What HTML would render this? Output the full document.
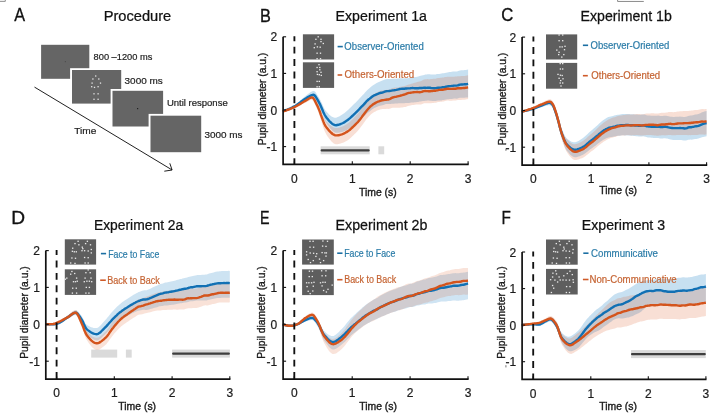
<!DOCTYPE html>
<html lang="en">
<head>
<meta charset="utf-8">
<title>Pupil diameter figure</title>
<style>
html,body{margin:0;padding:0;background:#fff;}
body{width:715px;height:420px;overflow:hidden;font-family:"Liberation Sans",sans-serif;}
svg{display:block;will-change:transform;filter:blur(0.45px);}
svg text{font-family:"Liberation Sans",sans-serif;}
</style>
</head>
<body>
<svg width="715" height="420" viewBox="0 0 715 420">
<rect x="0" y="0" width="715" height="420" fill="#ffffff"/>
<path d="M617.6,-1 V1.45 H643.8" fill="none" stroke="#7d7d7d" stroke-width="0.9"/>
<path d="M-1,1.35 H5.3 V-1" fill="none" stroke="#808080" stroke-width="0.9"/>
<rect x="505.3" y="148.6" width="1.2" height="2.2" fill="#8a8a8a"/>
<rect x="505.3" y="365.2" width="1.2" height="2.2" fill="#8a8a8a"/>
<text transform="translate(14.20,20.70) scale(0.8548,1)" font-size="19.0" fill="#111" stroke="#111" stroke-width="0.3">A</text>
<text transform="translate(103.63,20.50) scale(0.9917,1)" font-size="14.8" fill="#111" stroke="#111" stroke-width="0.25">Procedure</text>
<line x1="34.5" y1="87.1" x2="172.0" y2="169.9" stroke="#151515" stroke-width="0.95"/>
<polyline points="164.3,171.2 172.1,170 169.8,163.3" fill="none" stroke="#151515" stroke-width="0.95"/>
<rect x="39.2" y="43.0" width="51.2" height="36.9" fill="#fff"/>
<rect x="41.1" y="44.8" width="48.2" height="34.0" fill="#656565"/>
<rect x="70.1" y="68.2" width="52.2" height="36.5" fill="#fff"/>
<rect x="72.0" y="70.0" width="49.2" height="33.6" fill="#656565"/>
<rect x="110.6" y="89.0" width="53.6" height="38.6" fill="#fff"/>
<rect x="112.5" y="90.8" width="50.6" height="35.7" fill="#656565"/>
<rect x="148.6" y="113.9" width="53.7" height="39.4" fill="#fff"/>
<rect x="150.5" y="115.7" width="50.7" height="36.5" fill="#656565"/>
<rect x="64.8" y="61.1" width="1.1" height="1.1" fill="#4c4c4c"/>
<rect x="137.0" y="108.0" width="1.2" height="1.2" fill="#222"/>
<rect x="95.05" y="75.35" width="1.3" height="1.3" fill="#e6e6e6"/>
<rect x="92.25" y="78.35" width="1.3" height="1.3" fill="#e6e6e6"/>
<rect x="98.15" y="78.35" width="1.3" height="1.3" fill="#e6e6e6"/>
<rect x="91.45" y="82.45" width="1.3" height="1.3" fill="#e6e6e6"/>
<rect x="99.85" y="82.45" width="1.3" height="1.3" fill="#e6e6e6"/>
<rect x="91.05" y="86.05" width="1.3" height="1.3" fill="#e6e6e6"/>
<rect x="93.85" y="86.75" width="1.3" height="1.3" fill="#e6e6e6"/>
<rect x="97.45" y="86.05" width="1.3" height="1.3" fill="#e6e6e6"/>
<rect x="93.35" y="93.15" width="1.3" height="1.3" fill="#e6e6e6"/>
<rect x="97.45" y="93.15" width="1.3" height="1.3" fill="#e6e6e6"/>
<rect x="93.35" y="98.65" width="1.3" height="1.3" fill="#e6e6e6"/>
<rect x="97.45" y="98.65" width="1.3" height="1.3" fill="#e6e6e6"/>
<text transform="translate(93.58,59.90) scale(1.0668,1)" font-size="8.7" fill="#1c1c1c" stroke="#1c1c1c" stroke-width="0.18">800 &#8211;1200 ms</text>
<text transform="translate(124.60,83.90) scale(1.1433,1)" font-size="8.7" fill="#1c1c1c" stroke="#1c1c1c" stroke-width="0.18">3000 ms</text>
<text transform="translate(166.88,106.30) scale(1.0963,1)" font-size="8.7" fill="#1c1c1c" stroke="#1c1c1c" stroke-width="0.18">Until response</text>
<text transform="translate(204.40,138.00) scale(1.1403,1)" font-size="8.7" fill="#1c1c1c" stroke="#1c1c1c" stroke-width="0.18">3000 ms</text>
<text transform="translate(74.30,133.60) scale(1.1395,1)" font-size="8.9" fill="#1c1c1c" stroke="#1c1c1c" stroke-width="0.18">Time</text>
<rect x="320.6" y="146.3" width="49.1" height="8.0" fill="#dadada"/>
<rect x="320.6" y="149.3" width="49.1" height="2.1" rx="1" fill="#3e3e3e"/>
<rect x="378.4" y="146.3" width="5.8" height="8.0" fill="#dadada"/>
<polygon points="282.8,110.4 284.0,110.0 285.1,109.6 286.3,109.2 287.5,108.7 288.6,108.2 289.8,107.7 290.9,107.1 292.1,106.5 293.2,105.9 294.4,105.2 295.6,104.5 296.7,103.7 297.9,102.7 299.0,101.7 300.2,100.7 301.3,99.6 302.5,98.5 303.7,97.5 304.8,96.5 306.0,95.6 307.1,94.7 308.3,93.8 309.5,92.9 310.6,92.1 311.8,91.5 312.9,91.0 314.1,90.9 315.2,91.8 316.4,93.4 317.6,95.4 318.7,97.2 319.9,99.2 321.0,101.5 322.2,104.1 323.3,106.6 324.5,108.9 325.7,110.7 326.8,112.0 328.0,113.2 329.1,114.4 330.3,115.4 331.5,116.4 332.6,117.1 333.8,117.6 334.9,117.8 336.1,117.7 337.2,117.3 338.4,116.8 339.6,116.2 340.7,115.5 341.9,114.8 343.0,114.1 344.2,113.2 345.4,112.2 346.5,111.2 347.7,110.2 348.8,109.2 350.0,108.1 351.1,106.9 352.3,105.8 353.5,104.6 354.6,103.5 355.8,102.4 356.9,101.2 358.1,100.1 359.2,98.8 360.4,97.5 361.6,96.2 362.7,95.1 363.9,93.9 365.0,92.6 366.2,91.2 367.4,90.0 368.5,89.0 369.7,88.0 370.8,87.1 372.0,86.1 373.1,85.3 374.3,84.5 375.5,83.8 376.6,83.1 377.8,82.5 378.9,81.9 380.1,81.4 381.2,81.0 382.4,80.6 383.6,80.1 384.7,79.6 385.9,79.2 387.0,79.1 388.2,79.0 389.4,79.1 390.5,79.0 391.7,78.9 392.8,78.8 394.0,78.8 395.1,78.7 396.3,78.7 397.5,78.5 398.6,78.4 399.8,78.3 400.9,78.3 402.1,78.3 403.3,78.4 404.4,78.3 405.6,78.2 406.7,78.2 407.9,78.2 409.0,78.1 410.2,77.9 411.4,77.6 412.5,77.3 413.7,77.2 414.8,77.1 416.0,77.0 417.1,76.7 418.3,76.4 419.5,76.0 420.6,75.7 421.8,75.4 422.9,75.2 424.1,74.9 425.3,74.6 426.4,74.6 427.6,74.3 428.7,74.3 429.9,74.3 431.0,74.4 432.2,74.4 433.4,74.5 434.5,74.5 435.7,74.4 436.8,74.1 438.0,73.9 439.1,73.9 440.3,73.7 441.5,73.6 442.6,73.3 443.8,73.2 444.9,72.9 446.1,72.7 447.3,72.4 448.4,72.2 449.6,72.0 450.7,71.9 451.9,71.8 453.0,71.6 454.2,71.4 455.4,71.4 456.5,71.4 457.7,71.2 458.8,70.7 460.0,70.4 461.2,70.2 462.3,70.2 463.5,70.2 464.6,70.0 465.8,69.9 466.9,69.8 468.1,69.6 468.1,97.4 466.9,97.5 465.8,97.6 464.6,97.7 463.5,97.7 462.3,97.7 461.2,97.7 460.0,97.8 458.8,98.1 457.7,98.5 456.5,98.7 455.4,98.6 454.2,98.6 453.0,98.7 451.9,98.9 450.7,99.0 449.6,99.1 448.4,99.2 447.3,99.3 446.1,99.6 444.9,99.8 443.8,100.0 442.6,100.1 441.5,100.4 440.3,100.4 439.1,100.5 438.0,100.6 436.8,100.8 435.7,101.0 434.5,101.0 433.4,101.0 432.2,100.9 431.0,100.8 429.9,100.7 428.7,100.6 427.6,100.6 426.4,100.8 425.3,100.8 424.1,100.9 422.9,101.1 421.8,101.3 420.6,101.4 419.5,101.6 418.3,101.9 417.1,102.1 416.0,102.3 414.8,102.3 413.7,102.4 412.5,102.4 411.4,102.6 410.2,102.8 409.0,103.0 407.9,103.1 406.7,103.1 405.6,103.1 404.4,103.2 403.3,103.3 402.1,103.2 400.9,103.2 399.8,103.2 398.6,103.3 397.5,103.4 396.3,103.6 395.1,103.6 394.0,103.7 392.8,103.7 391.7,103.8 390.5,103.9 389.4,103.9 388.2,103.9 387.0,103.9 385.9,104.1 384.7,104.5 383.6,104.9 382.4,105.3 381.2,105.5 380.1,105.8 378.9,106.1 377.8,106.6 376.6,107.1 375.5,107.6 374.3,108.1 373.1,108.8 372.0,109.6 370.8,110.5 369.7,111.4 368.5,112.2 367.4,113.1 366.2,114.2 365.0,115.4 363.9,116.6 362.7,117.6 361.6,118.5 360.4,119.5 359.2,120.6 358.1,121.7 356.9,122.6 355.8,123.5 354.6,124.4 353.5,125.4 352.3,126.3 351.1,127.2 350.0,128.0 348.8,128.8 347.7,129.5 346.5,130.2 345.4,130.8 344.2,131.3 343.0,131.8 341.9,132.1 340.7,132.3 339.6,132.5 338.4,132.7 337.2,132.8 336.1,132.7 334.9,132.4 333.8,131.8 332.6,130.9 331.5,129.8 330.3,128.4 329.1,127.0 328.0,125.4 326.8,123.7 325.7,122.0 324.5,119.7 323.3,117.0 322.2,114.1 321.0,111.1 319.9,108.4 318.7,106.0 317.6,103.8 316.4,101.5 315.2,99.5 314.1,98.2 312.9,97.9 311.8,98.0 310.6,98.4 309.5,98.8 308.3,99.4 307.1,99.9 306.0,100.5 304.8,101.0 303.7,101.6 302.5,102.3 301.3,103.1 300.2,103.9 299.0,104.7 297.9,105.4 296.7,106.2 295.6,106.8 294.4,107.4 293.2,108.0 292.1,108.5 290.9,109.0 289.8,109.5 288.6,109.9 287.5,110.4 286.3,110.8 285.1,111.2 284.0,111.5 282.8,111.8" fill="rgba(0,114,189,0.220)"/>
<polygon points="282.8,110.7 284.0,110.4 285.1,110.0 286.3,109.6 287.5,109.1 288.6,108.6 289.8,108.2 290.9,107.6 292.1,107.1 293.2,106.5 294.4,106.0 295.6,105.4 296.7,104.7 297.9,104.0 299.0,103.2 300.2,102.5 301.3,101.7 302.5,100.9 303.7,100.1 304.8,99.3 306.0,98.5 307.1,97.7 308.3,96.8 309.5,96.0 310.6,95.2 311.8,94.8 312.9,95.0 314.1,96.3 315.2,98.3 316.4,100.6 317.6,102.7 318.7,105.0 319.9,107.6 321.0,110.6 322.2,113.5 323.3,116.4 324.5,118.8 325.7,120.7 326.8,121.9 328.0,123.1 329.1,124.2 330.3,125.2 331.5,126.1 332.6,126.9 333.8,127.5 334.9,127.9 336.1,128.0 337.2,127.9 338.4,127.7 339.6,127.4 340.7,127.1 341.9,126.7 343.0,126.3 344.2,125.7 345.4,125.0 346.5,124.3 347.7,123.6 348.8,122.7 350.0,121.7 351.1,120.6 352.3,119.5 353.5,118.3 354.6,117.0 355.8,115.8 356.9,114.5 358.1,113.2 359.2,111.7 360.4,110.1 361.6,108.3 362.7,106.6 363.9,104.8 365.0,103.2 366.2,101.6 367.4,100.1 368.5,98.7 369.7,97.4 370.8,96.2 372.0,95.3 373.1,94.4 374.3,93.7 375.5,93.0 376.6,92.4 377.8,91.9 378.9,91.4 380.1,90.9 381.2,90.6 382.4,90.4 383.6,90.3 384.7,90.0 385.9,89.9 387.0,89.7 388.2,89.7 389.4,89.4 390.5,88.9 391.7,88.3 392.8,87.9 394.0,87.8 395.1,87.6 396.3,87.6 397.5,87.4 398.6,87.2 399.8,87.0 400.9,86.8 402.1,86.5 403.3,86.2 404.4,86.0 405.6,85.7 406.7,85.3 407.9,84.8 409.0,84.4 410.2,84.2 411.4,83.8 412.5,83.4 413.7,83.0 414.8,82.7 416.0,82.4 417.1,82.1 418.3,81.8 419.5,81.6 420.6,81.3 421.8,80.8 422.9,80.1 424.1,79.5 425.3,79.3 426.4,79.2 427.6,79.1 428.7,79.2 429.9,79.2 431.0,79.1 432.2,78.9 433.4,78.8 434.5,78.7 435.7,78.7 436.8,78.3 438.0,78.1 439.1,77.9 440.3,77.8 441.5,77.7 442.6,77.6 443.8,77.4 444.9,77.1 446.1,76.9 447.3,76.7 448.4,76.7 449.6,76.8 450.7,76.8 451.9,76.8 453.0,76.8 454.2,76.7 455.4,76.6 456.5,76.4 457.7,76.3 458.8,76.2 460.0,76.2 461.2,76.1 462.3,76.0 463.5,76.0 464.6,75.9 465.8,75.7 466.9,75.5 468.1,75.3 468.1,99.1 466.9,99.3 465.8,99.5 464.6,99.7 463.5,99.7 462.3,99.8 461.2,99.9 460.0,100.0 458.8,100.0 457.7,100.1 456.5,100.2 455.4,100.5 454.2,100.5 453.0,100.6 451.9,100.7 450.7,100.7 449.6,100.7 448.4,100.6 447.3,100.6 446.1,100.8 444.9,101.1 443.8,101.4 442.6,101.6 441.5,101.7 440.3,101.8 439.1,101.9 438.0,102.1 436.8,102.4 435.7,102.7 434.5,102.8 433.4,102.9 432.2,103.0 431.0,103.2 429.9,103.3 428.7,103.3 427.6,103.2 426.4,103.2 425.3,103.2 424.1,103.3 422.9,103.7 421.8,104.2 420.6,104.5 419.5,104.6 418.3,104.5 417.1,104.6 416.0,104.6 414.8,104.8 413.7,104.9 412.5,105.1 411.4,105.3 410.2,105.5 409.0,105.7 407.9,106.0 406.7,106.5 405.6,106.9 404.4,107.1 403.3,107.3 402.1,107.5 400.9,107.6 399.8,107.7 398.6,107.8 397.5,107.8 396.3,107.8 395.1,107.8 394.0,107.7 392.8,107.8 391.7,108.0 390.5,108.4 389.4,108.8 388.2,108.9 387.0,108.8 385.9,108.9 384.7,109.0 383.6,109.1 382.4,109.1 381.2,109.3 380.1,109.5 378.9,109.9 377.8,110.3 376.6,110.8 375.5,111.4 374.3,112.0 373.1,112.8 372.0,113.6 370.8,114.5 369.7,115.7 368.5,116.9 367.4,118.2 366.2,119.6 365.0,121.2 363.9,122.8 362.7,124.4 361.6,126.0 360.4,127.6 359.2,129.1 358.1,130.5 356.9,131.7 355.8,132.9 354.6,134.0 353.5,135.2 352.3,136.3 351.1,137.4 350.0,138.5 348.8,139.4 347.7,140.2 346.5,140.9 345.4,141.6 344.2,142.2 343.0,142.7 341.9,143.1 340.7,143.5 339.6,143.8 338.4,144.0 337.2,144.2 336.1,144.2 334.9,144.0 333.8,143.4 332.6,142.6 331.5,141.5 330.3,140.1 329.1,138.6 328.0,136.9 326.8,135.2 325.7,133.3 324.5,130.7 323.3,127.5 322.2,123.9 321.0,120.2 319.9,116.6 318.7,113.2 317.6,110.3 316.4,107.5 315.2,104.7 314.1,102.2 312.9,100.5 311.8,99.9 310.6,100.1 309.5,100.5 308.3,101.2 307.1,101.8 306.0,102.4 304.8,102.9 303.7,103.5 302.5,104.1 301.3,104.7 300.2,105.3 299.0,105.9 297.9,106.5 296.7,107.1 295.6,107.7 294.4,108.2 293.2,108.6 292.1,109.1 290.9,109.5 289.8,110.0 288.6,110.4 287.5,110.8 286.3,111.2 285.1,111.5 284.0,111.9 282.8,112.2" fill="rgba(217,83,25,0.185)"/>
<polyline points="282.8,111.1 284.0,110.8 285.1,110.4 286.3,110.0 287.5,109.5 288.6,109.1 289.8,108.6 290.9,108.1 292.1,107.5 293.2,106.9 294.4,106.3 295.6,105.7 296.7,104.9 297.9,104.1 299.0,103.3 300.2,102.4 301.3,101.5 302.5,100.6 303.7,99.7 304.8,99.0 306.0,98.3 307.1,97.6 308.3,96.9 309.5,96.2 310.6,95.6 311.8,95.1 312.9,94.8 314.1,95.0 315.2,96.0 316.4,97.8 317.6,99.9 318.7,101.9 319.9,104.1 321.0,106.6 322.2,109.3 323.3,112.0 324.5,114.5 325.7,116.5 326.8,118.0 328.0,119.4 329.1,120.8 330.3,122.0 331.5,123.1 332.6,124.0 333.8,124.7 334.9,125.1 336.1,125.2 337.2,125.0 338.4,124.8 339.6,124.4 340.7,124.0 341.9,123.5 343.0,123.0 344.2,122.4 345.4,121.6 346.5,120.8 347.7,120.0 348.8,119.1 350.0,118.1 351.1,117.1 352.3,116.0 353.5,114.9 354.6,113.8 355.8,112.7 356.9,111.6 358.1,110.4 359.2,109.2 360.4,107.9 361.6,106.7 362.7,105.6 363.9,104.4 365.0,103.1 366.2,101.7 367.4,100.5 368.5,99.5 369.7,98.6 370.8,97.7 372.0,96.8 373.1,96.0 374.3,95.3 375.5,94.8 376.6,94.3 377.8,93.8 378.9,93.3 380.1,93.0 381.2,92.7 382.4,92.5 383.6,92.1 384.7,91.7 385.9,91.3 387.0,91.1 388.2,91.1 389.4,91.0 390.5,90.9 391.7,90.6 392.8,90.4 394.0,90.3 395.1,90.1 396.3,89.9 397.5,89.6 398.6,89.3 399.8,89.0 400.9,88.9 402.1,88.8 403.3,88.8 404.4,88.7 405.6,88.5 406.7,88.5 407.9,88.4 409.0,88.4 410.2,88.3 411.4,88.1 412.5,88.0 413.7,88.1 414.8,88.2 416.0,88.3 417.1,88.3 418.3,88.2 419.5,88.0 420.6,88.0 421.8,88.0 422.9,87.9 424.1,87.8 425.3,87.8 426.4,87.9 427.6,87.8 428.7,87.8 429.9,87.8 431.0,88.0 432.2,88.1 433.4,88.2 434.5,88.2 435.7,88.1 436.8,87.9 438.0,87.8 439.1,87.7 440.3,87.6 441.5,87.5 442.6,87.3 443.8,87.2 444.9,87.0 446.1,86.7 447.3,86.5 448.4,86.3 449.6,86.1 450.7,86.1 451.9,85.9 453.0,85.8 454.2,85.6 455.4,85.6 456.5,85.6 457.7,85.4 458.8,85.0 460.0,84.6 461.2,84.5 462.3,84.5 463.5,84.4 464.6,84.3 465.8,84.2 466.9,84.1 468.1,83.8" fill="none" stroke="#1170b4" stroke-width="2.4" stroke-linejoin="round" stroke-linecap="butt"/>
<polyline points="282.8,111.5 284.0,111.1 285.1,110.8 286.3,110.4 287.5,109.9 288.6,109.5 289.8,109.1 290.9,108.6 292.1,108.1 293.2,107.6 294.4,107.1 295.6,106.5 296.7,105.9 297.9,105.3 299.0,104.6 300.2,103.9 301.3,103.2 302.5,102.5 303.7,101.8 304.8,101.1 306.0,100.5 307.1,99.8 308.3,99.0 309.5,98.3 310.6,97.7 311.8,97.4 312.9,97.8 314.1,99.2 315.2,101.4 316.4,103.9 317.6,106.3 318.7,108.9 319.9,111.8 321.0,115.1 322.2,118.3 323.3,121.4 324.5,124.2 325.7,126.4 326.8,127.9 328.0,129.3 329.1,130.7 330.3,131.9 331.5,133.0 332.6,134.0 333.8,134.7 334.9,135.2 336.1,135.4 337.2,135.4 338.4,135.2 339.6,135.0 340.7,134.7 341.9,134.3 343.0,133.9 344.2,133.4 345.4,132.8 346.5,132.1 347.7,131.4 348.8,130.6 350.0,129.7 351.1,128.6 352.3,127.5 353.5,126.4 354.6,125.3 355.8,124.1 356.9,123.0 358.1,121.8 359.2,120.4 360.4,119.0 361.6,117.4 362.7,115.8 363.9,114.2 365.0,112.7 366.2,111.2 367.4,109.8 368.5,108.5 369.7,107.2 370.8,106.1 372.0,105.2 373.1,104.3 374.3,103.6 375.5,102.9 376.6,102.3 377.8,101.7 378.9,101.3 380.1,100.8 381.2,100.5 382.4,100.2 383.6,100.1 384.7,99.9 385.9,99.7 387.0,99.5 388.2,99.5 389.4,99.2 390.5,98.6 391.7,97.9 392.8,97.5 394.0,97.2 395.1,96.9 396.3,96.7 397.5,96.4 398.6,96.1 399.8,95.8 400.9,95.5 402.1,95.2 403.3,94.8 404.4,94.5 405.6,94.2 406.7,93.7 407.9,93.2 409.0,92.9 410.2,92.8 411.4,92.6 412.5,92.4 413.7,92.2 414.8,92.1 416.0,92.1 417.1,92.0 418.3,92.1 419.5,92.2 420.6,92.1 421.8,91.9 422.9,91.4 424.1,91.1 425.3,91.0 426.4,91.1 427.6,91.1 428.7,91.2 429.9,91.3 431.0,91.1 432.2,91.0 433.4,90.9 434.5,90.8 435.7,90.7 436.8,90.4 438.0,90.2 439.1,89.9 440.3,89.9 441.5,89.8 442.6,89.7 443.8,89.5 444.9,89.2 446.1,89.0 447.3,88.8 448.4,88.8 449.6,88.9 450.7,88.9 451.9,88.9 453.0,88.8 454.2,88.8 455.4,88.7 456.5,88.5 457.7,88.3 458.8,88.2 460.0,88.3 461.2,88.2 462.3,88.1 463.5,88.0 464.6,88.0 465.8,87.8 466.9,87.6 468.1,87.4" fill="none" stroke="#d4541c" stroke-width="2.4" stroke-linejoin="round" stroke-linecap="butt"/>
<line x1="294.4" y1="36.2" x2="294.4" y2="164.3" stroke="#111" stroke-width="1.85" stroke-dasharray="6.9,5.5" stroke-dashoffset="1.9"/>
<path d="M283.1,36.8 V164.3 H468.7" fill="none" stroke="#111" stroke-width="1.7"/>
<line x1="283.1" y1="36.8" x2="286.1" y2="36.8" stroke="#111" stroke-width="1.1"/>
<text x="277.2" y="41.3" font-size="12" fill="#1c1c1c" text-anchor="end" stroke="#1c1c1c" stroke-width="0.22">2</text>
<line x1="283.1" y1="73.4" x2="286.1" y2="73.4" stroke="#111" stroke-width="1.1"/>
<text x="277.2" y="77.9" font-size="12" fill="#1c1c1c" text-anchor="end" stroke="#1c1c1c" stroke-width="0.22">1</text>
<line x1="283.1" y1="110.0" x2="286.1" y2="110.0" stroke="#111" stroke-width="1.1"/>
<text x="277.2" y="114.5" font-size="12" fill="#1c1c1c" text-anchor="end" stroke="#1c1c1c" stroke-width="0.22">0</text>
<line x1="283.1" y1="146.6" x2="286.1" y2="146.6" stroke="#111" stroke-width="1.1"/>
<text x="277.2" y="151.1" font-size="12" fill="#1c1c1c" text-anchor="end" stroke="#1c1c1c" stroke-width="0.22">-1</text>
<line x1="294.4" y1="164.3" x2="294.4" y2="161.3" stroke="#111" stroke-width="1.1"/>
<text x="294.4" y="182.5" font-size="12" fill="#1c1c1c" text-anchor="middle" stroke="#1c1c1c" stroke-width="0.22">0</text>
<line x1="352.3" y1="164.3" x2="352.3" y2="161.3" stroke="#111" stroke-width="1.1"/>
<text x="352.3" y="182.5" font-size="12" fill="#1c1c1c" text-anchor="middle" stroke="#1c1c1c" stroke-width="0.22">1</text>
<line x1="410.2" y1="164.3" x2="410.2" y2="161.3" stroke="#111" stroke-width="1.1"/>
<text x="410.2" y="182.5" font-size="12" fill="#1c1c1c" text-anchor="middle" stroke="#1c1c1c" stroke-width="0.22">2</text>
<line x1="468.1" y1="164.3" x2="468.1" y2="161.3" stroke="#111" stroke-width="1.1"/>
<text x="468.1" y="182.5" font-size="12" fill="#1c1c1c" text-anchor="middle" stroke="#1c1c1c" stroke-width="0.22">3</text>
<text transform="translate(358.99,195.80) scale(0.9820,1)" font-size="10.6" fill="#1c1c1c" stroke="#1c1c1c" stroke-width="0.38">Time (s)</text>
<text transform="translate(265.6,99.0) rotate(-90)" font-size="10.6" fill="#1c1c1c" stroke="#1c1c1c" stroke-width="0.36" text-anchor="middle" textLength="92.5" lengthAdjust="spacingAndGlyphs">Pupil diameter (a.u.)</text>
<rect x="302.9" y="34.3" width="31.2" height="25.2" fill="#5e5e5e"/>
<rect x="317.52" y="36.15" width="1.36" height="1.3" fill="#ebebeb"/>
<rect x="315.22" y="38.65" width="1.36" height="1.3" fill="#ebebeb"/>
<rect x="320.32" y="38.65" width="1.36" height="1.3" fill="#ebebeb"/>
<rect x="320.32" y="40.95" width="1.36" height="1.3" fill="#ebebeb"/>
<rect x="322.62" y="42.85" width="1.36" height="1.3" fill="#ebebeb"/>
<rect x="314.42" y="43.25" width="1.36" height="1.3" fill="#ebebeb"/>
<rect x="313.62" y="47.05" width="1.36" height="1.3" fill="#ebebeb"/>
<rect x="316.72" y="46.25" width="1.36" height="1.3" fill="#ebebeb"/>
<rect x="319.52" y="46.55" width="1.36" height="1.3" fill="#ebebeb"/>
<rect x="316.42" y="52.55" width="1.36" height="1.3" fill="#ebebeb"/>
<rect x="319.82" y="52.55" width="1.36" height="1.3" fill="#ebebeb"/>
<rect x="316.42" y="58.05" width="1.36" height="1.3" fill="#ebebeb"/>
<rect x="319.82" y="58.05" width="1.36" height="1.3" fill="#ebebeb"/>
<rect x="302.9" y="62.3" width="31.2" height="25.6" fill="#5e5e5e"/>
<rect x="318.32" y="64.05" width="1.36" height="1.3" fill="#ebebeb"/>
<rect x="316.42" y="66.85" width="1.36" height="1.3" fill="#ebebeb"/>
<rect x="319.12" y="66.85" width="1.36" height="1.3" fill="#ebebeb"/>
<rect x="319.12" y="69.15" width="1.36" height="1.3" fill="#ebebeb"/>
<rect x="316.42" y="71.05" width="1.36" height="1.3" fill="#ebebeb"/>
<rect x="320.32" y="71.65" width="1.36" height="1.3" fill="#ebebeb"/>
<rect x="316.72" y="73.75" width="1.36" height="1.3" fill="#ebebeb"/>
<rect x="318.62" y="74.05" width="1.36" height="1.3" fill="#ebebeb"/>
<rect x="320.62" y="74.75" width="1.36" height="1.3" fill="#ebebeb"/>
<rect x="316.42" y="80.75" width="1.36" height="1.3" fill="#ebebeb"/>
<rect x="318.62" y="80.75" width="1.36" height="1.3" fill="#ebebeb"/>
<rect x="316.42" y="86.15" width="1.36" height="1.3" fill="#ebebeb"/>
<rect x="318.62" y="86.15" width="1.36" height="1.3" fill="#ebebeb"/>
<line x1="337.6" y1="46.6" x2="342.8" y2="46.6" stroke="#1b6fa3" stroke-width="1.6"/>
<text transform="translate(344.37,49.80) scale(0.9215,1)" font-size="10.4" fill="#2b7ca8" stroke="#2b7ca8" stroke-width="0.2">Observer-Oriented</text>
<line x1="337.6" y1="75.0" x2="342.2" y2="75.0" stroke="#cf5a28" stroke-width="1.6"/>
<text transform="translate(344.56,78.10) scale(0.9357,1)" font-size="10.4" fill="#c56332" stroke="#c56332" stroke-width="0.2">Others-Oriented</text>
<text transform="translate(260.10,21.60) scale(0.8559,1)" font-size="19.0" fill="#111" stroke="#111" stroke-width="0.35">B</text>
<text transform="translate(335.57,21.40) scale(0.9651,1)" font-size="14.7" fill="#111" stroke="#111" stroke-width="0.25">Experiment 1a</text>
<polygon points="521.8,110.9 523.0,110.6 524.1,110.4 525.3,110.1 526.4,109.8 527.6,109.4 528.7,109.1 529.9,108.7 531.0,108.4 532.2,108.0 533.4,107.6 534.5,107.1 535.7,106.6 536.8,106.1 538.0,105.6 539.1,105.0 540.3,104.5 541.4,103.9 542.6,103.4 543.7,102.8 544.9,102.2 546.1,101.6 547.2,101.1 548.4,100.6 549.5,100.4 550.7,100.5 551.8,101.3 553.0,102.5 554.1,104.9 555.3,108.1 556.5,111.4 557.6,114.9 558.8,119.0 559.9,123.2 561.1,127.0 562.2,130.0 563.4,132.8 564.5,135.3 565.7,137.3 566.8,138.5 568.0,139.5 569.2,140.3 570.3,141.1 571.5,141.7 572.6,142.1 573.8,142.3 574.9,142.2 576.1,141.9 577.2,141.5 578.4,140.9 579.6,140.2 580.7,139.5 581.9,138.7 583.0,138.0 584.2,137.1 585.3,136.1 586.5,135.0 587.6,133.9 588.8,132.8 589.9,131.7 591.1,130.7 592.3,129.8 593.4,128.8 594.6,127.7 595.7,126.7 596.9,125.7 598.0,124.7 599.2,123.6 600.3,122.5 601.5,121.5 602.7,120.5 603.8,119.7 605.0,118.9 606.1,118.2 607.3,117.6 608.4,117.1 609.6,116.8 610.7,116.4 611.9,116.2 613.0,115.9 614.2,115.6 615.4,115.3 616.5,114.9 617.7,114.7 618.8,114.7 620.0,114.5 621.1,114.3 622.3,114.1 623.4,114.1 624.6,114.1 625.8,114.0 626.9,113.9 628.1,114.0 629.2,114.1 630.4,114.2 631.5,114.2 632.7,114.2 633.8,114.3 635.0,114.4 636.1,114.6 637.3,114.6 638.5,114.7 639.6,114.8 640.8,114.7 641.9,114.6 643.1,114.4 644.2,114.5 645.4,114.8 646.5,115.2 647.7,115.4 648.9,115.5 650.0,115.6 651.2,115.7 652.3,115.7 653.5,115.7 654.6,115.8 655.8,115.7 656.9,115.7 658.1,115.6 659.2,115.8 660.4,115.9 661.6,116.0 662.7,115.9 663.9,115.8 665.0,115.7 666.2,115.8 667.3,115.9 668.5,116.2 669.6,116.4 670.8,116.7 672.0,116.8 673.1,116.9 674.3,116.9 675.4,116.8 676.6,116.8 677.7,116.7 678.9,116.8 680.0,116.6 681.2,116.7 682.3,116.7 683.5,116.9 684.7,117.0 685.8,116.8 687.0,116.5 688.1,116.0 689.3,115.7 690.4,115.5 691.6,115.5 692.7,115.2 693.9,114.9 695.0,114.6 696.2,114.4 697.4,114.2 698.5,114.0 699.7,113.4 700.8,112.9 702.0,112.3 703.1,111.9 704.3,111.6 705.4,111.3 706.6,111.0 706.6,136.3 705.4,136.6 704.3,136.7 703.1,137.0 702.0,137.2 700.8,137.7 699.7,138.1 698.5,138.6 697.4,138.8 696.2,138.9 695.0,139.0 693.9,139.2 692.7,139.5 691.6,139.7 690.4,139.6 689.3,139.7 688.1,139.8 687.0,140.3 685.8,140.6 684.7,140.6 683.5,140.4 682.3,140.2 681.2,140.1 680.0,140.0 678.9,140.1 677.7,140.0 676.6,140.0 675.4,139.9 674.3,139.9 673.1,139.9 672.0,139.7 670.8,139.5 669.6,139.2 668.5,139.0 667.3,138.6 666.2,138.4 665.0,138.3 663.9,138.3 662.7,138.4 661.6,138.4 660.4,138.4 659.2,138.2 658.1,138.0 656.9,138.0 655.8,138.0 654.6,138.0 653.5,137.9 652.3,137.8 651.2,137.8 650.0,137.6 648.9,137.5 647.7,137.4 646.5,137.1 645.4,136.7 644.2,136.4 643.1,136.2 641.9,136.4 640.8,136.5 639.6,136.5 638.5,136.4 637.3,136.3 636.1,136.3 635.0,136.1 633.8,135.9 632.7,135.8 631.5,135.7 630.4,135.7 629.2,135.5 628.1,135.5 626.9,135.3 625.8,135.4 624.6,135.4 623.4,135.3 622.3,135.3 621.1,135.5 620.0,135.7 618.8,135.8 617.7,135.8 616.5,135.9 615.4,136.2 614.2,136.5 613.0,136.8 611.9,137.0 610.7,137.1 609.6,137.3 608.4,137.5 607.3,137.9 606.1,138.3 605.0,138.9 603.8,139.5 602.7,140.2 601.5,141.0 600.3,141.8 599.2,142.7 598.0,143.6 596.9,144.5 595.7,145.4 594.6,146.2 593.4,147.1 592.3,147.9 591.1,148.7 589.9,149.5 588.8,150.4 587.6,151.4 586.5,152.3 585.3,153.2 584.2,154.0 583.0,154.7 581.9,155.2 580.7,155.7 579.6,156.2 578.4,156.6 577.2,157.0 576.1,157.2 574.9,157.2 573.8,157.0 572.6,156.5 571.5,155.7 570.3,154.7 569.2,153.5 568.0,152.1 566.8,150.7 565.7,148.9 564.5,146.3 563.4,143.3 562.2,139.9 561.1,136.3 559.9,132.0 558.8,127.2 557.6,122.6 556.5,118.6 555.3,114.7 554.1,111.1 553.0,108.3 551.8,106.7 550.7,105.6 549.5,105.2 548.4,105.3 547.2,105.4 546.1,105.7 544.9,106.1 543.7,106.5 542.6,106.9 541.4,107.2 540.3,107.5 539.1,107.9 538.0,108.3 536.8,108.7 535.7,109.1 534.5,109.4 533.4,109.8 532.2,110.1 531.0,110.4 529.9,110.6 528.7,110.9 527.6,111.2 526.4,111.4 525.3,111.7 524.1,111.9 523.0,112.1 521.8,112.3" fill="rgba(0,114,189,0.220)"/>
<polygon points="521.8,110.9 523.0,110.5 524.1,110.2 525.3,109.8 526.4,109.5 527.6,109.1 528.7,108.6 529.9,108.2 531.0,107.8 532.2,107.3 533.4,106.8 534.5,106.3 535.7,105.8 536.8,105.2 538.0,104.6 539.1,104.0 540.3,103.4 541.4,102.9 542.6,102.3 543.7,101.7 544.9,101.1 546.1,100.5 547.2,100.0 548.4,99.6 549.5,99.3 550.7,99.3 551.8,100.2 553.0,101.5 554.1,103.9 555.3,107.2 556.5,110.6 557.6,114.2 558.8,118.5 559.9,122.8 561.1,126.8 562.2,130.0 563.4,132.9 564.5,135.5 565.7,137.7 566.8,139.1 568.0,140.3 569.2,141.4 570.3,142.4 571.5,143.2 572.6,143.9 573.8,144.2 574.9,144.3 576.1,144.1 577.2,143.8 578.4,143.3 579.6,142.8 580.7,142.2 581.9,141.5 583.0,140.9 584.2,140.1 585.3,139.2 586.5,138.2 587.6,137.1 588.8,136.0 589.9,135.0 591.1,134.0 592.3,133.1 593.4,132.1 594.6,131.0 595.7,129.9 596.9,128.7 598.0,127.7 599.2,126.6 600.3,125.5 601.5,124.5 602.7,123.6 603.8,122.6 605.0,121.8 606.1,121.0 607.3,120.3 608.4,119.6 609.6,119.1 610.7,118.5 611.9,118.1 613.0,117.6 614.2,117.3 615.4,117.0 616.5,116.6 617.7,116.1 618.8,115.7 620.0,115.5 621.1,115.4 622.3,115.3 623.4,115.1 624.6,114.9 625.8,114.7 626.9,114.6 628.1,114.5 629.2,114.6 630.4,114.6 631.5,114.6 632.7,114.4 633.8,114.3 635.0,114.2 636.1,114.1 637.3,114.0 638.5,114.0 639.6,114.1 640.8,114.2 641.9,114.3 643.1,114.2 644.2,113.9 645.4,113.7 646.5,113.6 647.7,113.6 648.9,113.5 650.0,113.4 651.2,113.3 652.3,113.3 653.5,113.3 654.6,113.4 655.8,113.5 656.9,113.6 658.1,113.6 659.2,113.3 660.4,113.1 661.6,112.8 662.7,112.8 663.9,112.7 665.0,112.8 666.2,112.6 667.3,112.5 668.5,112.1 669.6,112.0 670.8,111.9 672.0,112.1 673.1,112.2 674.3,112.1 675.4,111.9 676.6,111.7 677.7,111.5 678.9,111.4 680.0,111.3 681.2,111.3 682.3,111.3 683.5,111.1 684.7,110.9 685.8,110.9 687.0,110.9 688.1,110.9 689.3,110.8 690.4,110.7 691.6,110.6 692.7,110.4 693.9,110.2 695.0,110.1 696.2,110.0 697.4,110.0 698.5,109.8 699.7,109.5 700.8,109.2 702.0,109.1 703.1,109.1 704.3,109.2 705.4,109.0 706.6,108.9 706.6,134.6 705.4,134.6 704.3,134.7 703.1,134.6 702.0,134.4 700.8,134.4 699.7,134.6 698.5,134.8 697.4,134.9 696.2,134.9 695.0,134.9 693.9,134.9 692.7,135.0 691.6,135.1 690.4,135.2 689.3,135.1 688.1,135.2 687.0,135.1 685.8,134.9 684.7,134.9 683.5,135.0 682.3,135.1 681.2,135.1 680.0,135.0 678.9,134.9 677.7,135.0 676.6,135.1 675.4,135.2 674.3,135.3 673.1,135.3 672.0,135.2 670.8,134.9 669.6,134.9 668.5,135.0 667.3,135.2 666.2,135.2 665.0,135.4 663.9,135.3 662.7,135.3 661.6,135.2 660.4,135.4 659.2,135.5 658.1,135.8 656.9,135.7 655.8,135.5 654.6,135.4 653.5,135.2 652.3,135.2 651.2,135.1 650.0,135.1 648.9,135.1 647.7,135.1 646.5,135.1 645.4,135.2 644.2,135.3 643.1,135.6 641.9,135.6 640.8,135.5 639.6,135.3 638.5,135.2 637.3,135.1 636.1,135.1 635.0,135.2 633.8,135.2 632.7,135.3 631.5,135.4 630.4,135.3 629.2,135.3 628.1,135.1 626.9,135.2 625.8,135.2 624.6,135.4 623.4,135.5 622.3,135.6 621.1,135.6 620.0,135.7 618.8,135.8 617.7,136.1 616.5,136.5 615.4,136.9 614.2,137.1 613.0,137.4 611.9,137.7 610.7,138.1 609.6,138.5 608.4,139.0 607.3,139.6 606.1,140.2 605.0,140.9 603.8,141.6 602.7,142.4 601.5,143.2 600.3,144.2 599.2,145.1 598.0,146.1 596.9,147.0 595.7,148.0 594.6,149.0 593.4,150.0 592.3,150.8 591.1,151.6 589.9,152.5 588.8,153.4 587.6,154.4 586.5,155.3 585.3,156.2 584.2,157.0 583.0,157.7 581.9,158.2 580.7,158.6 579.6,159.1 578.4,159.5 577.2,159.8 576.1,159.9 574.9,159.9 573.8,159.7 572.6,159.0 571.5,158.1 570.3,156.8 569.2,155.4 568.0,153.8 566.8,152.0 565.7,150.0 564.5,147.2 563.4,143.9 562.2,140.4 561.1,136.6 559.9,132.0 558.8,127.0 557.6,122.1 556.5,117.9 555.3,113.9 554.1,110.2 553.0,107.3 551.8,105.6 550.7,104.5 549.5,104.1 548.4,104.2 547.2,104.3 546.1,104.6 544.9,105.0 543.7,105.4 542.6,105.8 541.4,106.1 540.3,106.5 539.1,106.9 538.0,107.3 536.8,107.8 535.7,108.2 534.5,108.6 533.4,109.0 532.2,109.4 531.0,109.8 529.9,110.1 528.7,110.5 527.6,110.8 526.4,111.1 525.3,111.4 524.1,111.7 523.0,112.0 521.8,112.3" fill="rgba(217,83,25,0.185)"/>
<polyline points="521.8,111.6 523.0,111.4 524.1,111.1 525.3,110.9 526.4,110.6 527.6,110.3 528.7,110.0 529.9,109.7 531.0,109.4 532.2,109.0 533.4,108.7 534.5,108.3 535.7,107.9 536.8,107.4 538.0,106.9 539.1,106.5 540.3,106.0 541.4,105.6 542.6,105.1 543.7,104.7 544.9,104.2 546.1,103.7 547.2,103.3 548.4,102.9 549.5,102.8 550.7,103.1 551.8,104.0 553.0,105.4 554.1,108.0 555.3,111.4 556.5,114.9 557.6,118.7 558.8,123.0 559.9,127.5 561.1,131.5 562.2,134.8 563.4,137.9 564.5,140.6 565.7,142.9 566.8,144.4 568.0,145.6 569.2,146.8 570.3,147.7 571.5,148.6 572.6,149.2 573.8,149.6 574.9,149.8 576.1,149.7 577.2,149.4 578.4,149.0 579.6,148.6 580.7,148.0 581.9,147.5 583.0,146.9 584.2,146.2 585.3,145.4 586.5,144.4 587.6,143.4 588.8,142.5 589.9,141.5 591.1,140.6 592.3,139.8 593.4,138.8 594.6,137.9 595.7,137.0 596.9,136.0 598.0,135.1 599.2,134.0 600.3,133.1 601.5,132.1 602.7,131.2 603.8,130.4 605.0,129.7 606.1,129.0 607.3,128.5 608.4,128.0 609.6,127.7 610.7,127.4 611.9,127.2 613.0,126.9 614.2,126.6 615.4,126.3 616.5,125.9 617.7,125.7 618.8,125.7 620.0,125.5 621.1,125.3 622.3,125.1 623.4,125.1 624.6,125.1 625.8,125.0 626.9,125.0 628.1,125.0 629.2,125.1 630.4,125.2 631.5,125.2 632.7,125.2 633.8,125.3 635.0,125.5 636.1,125.6 637.3,125.6 638.5,125.7 639.6,125.8 640.8,125.7 641.9,125.6 643.1,125.4 644.2,125.5 645.4,125.8 646.5,126.2 647.7,126.4 648.9,126.5 650.0,126.6 651.2,126.7 652.3,126.7 653.5,126.7 654.6,126.8 655.8,126.8 656.9,126.7 658.1,126.7 659.2,126.9 660.4,127.0 661.6,127.0 662.7,127.0 663.9,126.9 665.0,126.8 666.2,126.9 667.3,127.1 668.5,127.4 669.6,127.6 670.8,127.9 672.0,128.0 673.1,128.1 674.3,128.1 675.4,128.1 676.6,128.1 677.7,128.1 678.9,128.1 680.0,128.0 681.2,128.1 682.3,128.1 683.5,128.3 684.7,128.5 685.8,128.4 687.0,128.1 688.1,127.5 689.3,127.3 690.4,127.2 691.6,127.2 692.7,126.9 693.9,126.7 695.0,126.4 696.2,126.2 697.4,126.1 698.5,125.8 699.7,125.3 700.8,124.8 702.0,124.3 703.1,123.9 704.3,123.6 705.4,123.4 706.6,123.1" fill="none" stroke="#1170b4" stroke-width="2.4" stroke-linejoin="round" stroke-linecap="butt"/>
<polyline points="521.8,111.6 523.0,111.3 524.1,111.0 525.3,110.6 526.4,110.3 527.6,109.9 528.7,109.5 529.9,109.2 531.0,108.8 532.2,108.3 533.4,107.9 534.5,107.5 535.7,107.0 536.8,106.5 538.0,106.0 539.1,105.4 540.3,104.9 541.4,104.5 542.6,104.0 543.7,103.6 544.9,103.1 546.1,102.6 547.2,102.2 548.4,101.9 549.5,101.7 550.7,101.9 551.8,102.9 553.0,104.4 554.1,107.0 555.3,110.5 556.5,114.2 557.6,118.1 558.8,122.6 559.9,127.2 561.1,131.5 562.2,134.9 563.4,138.1 564.5,141.0 565.7,143.5 566.8,145.2 568.0,146.6 569.2,148.0 570.3,149.2 571.5,150.2 572.6,151.1 573.8,151.6 574.9,151.8 576.1,151.7 577.2,151.5 578.4,151.1 579.6,150.7 580.7,150.2 581.9,149.7 583.0,149.1 584.2,148.4 585.3,147.6 586.5,146.7 587.6,145.7 588.8,144.7 589.9,143.7 591.1,142.8 592.3,142.0 593.4,141.1 594.6,140.1 595.7,139.0 596.9,138.0 598.0,137.0 599.2,136.0 600.3,135.0 601.5,134.0 602.7,133.2 603.8,132.4 605.0,131.6 606.1,130.9 607.3,130.2 608.4,129.6 609.6,129.1 610.7,128.6 611.9,128.2 613.0,127.9 614.2,127.6 615.4,127.3 616.5,126.9 617.7,126.5 618.8,126.2 620.0,126.0 621.1,125.9 622.3,125.9 623.4,125.7 624.6,125.6 625.8,125.4 626.9,125.4 628.1,125.3 629.2,125.4 630.4,125.5 631.5,125.5 632.7,125.4 633.8,125.3 635.0,125.2 636.1,125.1 637.3,125.1 638.5,125.1 639.6,125.2 640.8,125.4 641.9,125.5 643.1,125.4 644.2,125.2 645.4,125.0 646.5,124.9 647.7,124.9 648.9,124.8 650.0,124.8 651.2,124.8 652.3,124.8 653.5,124.8 654.6,124.9 655.8,125.0 656.9,125.2 658.1,125.2 659.2,124.9 660.4,124.7 661.6,124.5 662.7,124.5 663.9,124.4 665.0,124.5 666.2,124.3 667.3,124.3 668.5,123.9 669.6,123.9 670.8,123.8 672.0,124.1 673.1,124.1 674.3,124.1 675.4,123.9 676.6,123.7 677.7,123.5 678.9,123.4 680.0,123.4 681.2,123.4 682.3,123.4 683.5,123.2 684.7,123.1 685.8,123.1 687.0,123.1 688.1,123.1 689.3,123.0 690.4,123.0 691.6,122.8 692.7,122.7 693.9,122.5 695.0,122.4 696.2,122.3 697.4,122.3 698.5,122.1 699.7,121.9 700.8,121.6 702.0,121.5 703.1,121.6 704.3,121.6 705.4,121.5 706.6,121.4" fill="none" stroke="#d4541c" stroke-width="2.4" stroke-linejoin="round" stroke-linecap="butt"/>
<line x1="533.4" y1="36.5" x2="533.4" y2="165.2" stroke="#111" stroke-width="1.85" stroke-dasharray="6.9,5.5" stroke-dashoffset="1.9"/>
<path d="M522.1,37.1 V165.2 H707.2" fill="none" stroke="#111" stroke-width="1.7"/>
<line x1="522.1" y1="37.1" x2="525.1" y2="37.1" stroke="#111" stroke-width="1.1"/>
<text x="516.2" y="41.6" font-size="12" fill="#1c1c1c" text-anchor="end" stroke="#1c1c1c" stroke-width="0.22">2</text>
<line x1="522.1" y1="73.8" x2="525.1" y2="73.8" stroke="#111" stroke-width="1.1"/>
<text x="516.2" y="78.3" font-size="12" fill="#1c1c1c" text-anchor="end" stroke="#1c1c1c" stroke-width="0.22">1</text>
<line x1="522.1" y1="110.5" x2="525.1" y2="110.5" stroke="#111" stroke-width="1.1"/>
<text x="516.2" y="115.0" font-size="12" fill="#1c1c1c" text-anchor="end" stroke="#1c1c1c" stroke-width="0.22">0</text>
<line x1="522.1" y1="147.2" x2="525.1" y2="147.2" stroke="#111" stroke-width="1.1"/>
<text x="516.2" y="151.7" font-size="12" fill="#1c1c1c" text-anchor="end" stroke="#1c1c1c" stroke-width="0.22">-1</text>
<line x1="533.4" y1="165.2" x2="533.4" y2="162.2" stroke="#111" stroke-width="1.1"/>
<text x="533.4" y="183.4" font-size="12" fill="#1c1c1c" text-anchor="middle" stroke="#1c1c1c" stroke-width="0.22">0</text>
<line x1="591.1" y1="165.2" x2="591.1" y2="162.2" stroke="#111" stroke-width="1.1"/>
<text x="591.1" y="183.4" font-size="12" fill="#1c1c1c" text-anchor="middle" stroke="#1c1c1c" stroke-width="0.22">1</text>
<line x1="648.9" y1="165.2" x2="648.9" y2="162.2" stroke="#111" stroke-width="1.1"/>
<text x="648.9" y="183.4" font-size="12" fill="#1c1c1c" text-anchor="middle" stroke="#1c1c1c" stroke-width="0.22">2</text>
<line x1="706.6" y1="165.2" x2="706.6" y2="162.2" stroke="#111" stroke-width="1.1"/>
<text x="706.6" y="183.4" font-size="12" fill="#1c1c1c" text-anchor="middle" stroke="#1c1c1c" stroke-width="0.22">3</text>
<text transform="translate(599.29,194.40) scale(0.9820,1)" font-size="10.6" fill="#1c1c1c" stroke="#1c1c1c" stroke-width="0.38">Time (s)</text>
<text transform="translate(506.2,99.0) rotate(-90)" font-size="10.6" fill="#1c1c1c" stroke="#1c1c1c" stroke-width="0.36" text-anchor="middle" textLength="92.5" lengthAdjust="spacingAndGlyphs">Pupil diameter (a.u.)</text>
<rect x="546.0" y="34.4" width="31.2" height="25.1" fill="#5e5e5e"/>
<rect x="558.42" y="34.35" width="1.36" height="1.3" fill="#ebebeb"/>
<rect x="562.02" y="34.35" width="1.36" height="1.3" fill="#ebebeb"/>
<rect x="558.42" y="40.05" width="1.36" height="1.3" fill="#ebebeb"/>
<rect x="562.02" y="40.05" width="1.36" height="1.3" fill="#ebebeb"/>
<rect x="559.22" y="46.25" width="1.36" height="1.3" fill="#ebebeb"/>
<rect x="561.52" y="46.25" width="1.36" height="1.3" fill="#ebebeb"/>
<rect x="564.32" y="45.65" width="1.36" height="1.3" fill="#ebebeb"/>
<rect x="563.82" y="49.05" width="1.36" height="1.3" fill="#ebebeb"/>
<rect x="556.12" y="49.45" width="1.36" height="1.3" fill="#ebebeb"/>
<rect x="558.42" y="51.65" width="1.36" height="1.3" fill="#ebebeb"/>
<rect x="558.02" y="53.95" width="1.36" height="1.3" fill="#ebebeb"/>
<rect x="563.12" y="53.95" width="1.36" height="1.3" fill="#ebebeb"/>
<rect x="561.12" y="56.45" width="1.36" height="1.3" fill="#ebebeb"/>
<rect x="546.0" y="62.9" width="31.2" height="25.8" fill="#5e5e5e"/>
<rect x="559.52" y="62.95" width="1.36" height="1.3" fill="#ebebeb"/>
<rect x="562.02" y="62.95" width="1.36" height="1.3" fill="#ebebeb"/>
<rect x="559.72" y="68.35" width="1.36" height="1.3" fill="#ebebeb"/>
<rect x="562.02" y="68.35" width="1.36" height="1.3" fill="#ebebeb"/>
<rect x="557.32" y="73.75" width="1.36" height="1.3" fill="#ebebeb"/>
<rect x="559.72" y="74.55" width="1.36" height="1.3" fill="#ebebeb"/>
<rect x="561.52" y="74.85" width="1.36" height="1.3" fill="#ebebeb"/>
<rect x="558.42" y="77.65" width="1.36" height="1.3" fill="#ebebeb"/>
<rect x="562.32" y="78.15" width="1.36" height="1.3" fill="#ebebeb"/>
<rect x="560.02" y="79.95" width="1.36" height="1.3" fill="#ebebeb"/>
<rect x="559.52" y="82.35" width="1.36" height="1.3" fill="#ebebeb"/>
<rect x="562.02" y="82.35" width="1.36" height="1.3" fill="#ebebeb"/>
<rect x="560.32" y="85.35" width="1.36" height="1.3" fill="#ebebeb"/>
<line x1="582.9" y1="45.3" x2="588.1" y2="45.3" stroke="#1b6fa3" stroke-width="1.6"/>
<text transform="translate(590.47,49.40) scale(0.9156,1)" font-size="10.4" fill="#2b7ca8" stroke="#2b7ca8" stroke-width="0.2">Observer-Oriented</text>
<line x1="582.9" y1="75.7" x2="587.8" y2="75.7" stroke="#cf5a28" stroke-width="1.6"/>
<text transform="translate(591.27,79.00) scale(0.9234,1)" font-size="10.4" fill="#c56332" stroke="#c56332" stroke-width="0.2">Others-Oriented</text>
<text transform="translate(501.17,21.10) scale(0.8786,1)" font-size="19.0" fill="#111" stroke="#111" stroke-width="0.35">C</text>
<text transform="translate(580.57,20.90) scale(0.9637,1)" font-size="14.7" fill="#111" stroke="#111" stroke-width="0.25">Experiment 1b</text>
<rect x="91.2" y="349.6" width="26.0" height="8.0" fill="#dadada"/>
<rect x="125.9" y="349.6" width="5.8" height="8.0" fill="#dadada"/>
<rect x="172.1" y="349.6" width="57.8" height="8.0" fill="#dadada"/>
<rect x="172.1" y="352.6" width="57.8" height="2.1" rx="1" fill="#3e3e3e"/>
<polygon points="45.0,323.6 46.2,323.5 47.4,323.5 48.5,323.5 49.7,323.4 50.8,323.4 52.0,323.4 53.1,323.3 54.3,323.3 55.4,323.0 56.6,322.7 57.8,322.2 58.9,321.8 60.1,321.2 61.2,320.5 62.4,319.6 63.5,318.7 64.7,317.8 65.8,316.9 67.0,316.0 68.2,315.2 69.3,314.3 70.5,313.4 71.6,312.4 72.8,311.6 73.9,310.9 75.1,310.4 76.2,310.3 77.4,310.9 78.5,312.1 79.7,313.5 80.9,315.1 82.0,316.6 83.2,318.7 84.3,321.2 85.5,323.4 86.6,324.7 87.8,325.4 88.9,326.1 90.1,326.7 91.2,327.2 92.4,327.6 93.6,327.9 94.7,328.0 95.9,328.0 97.0,327.9 98.2,327.4 99.3,326.6 100.5,325.5 101.6,324.2 102.8,322.8 104.0,321.5 105.1,320.2 106.3,319.0 107.4,317.6 108.6,316.2 109.7,314.7 110.9,313.3 112.0,312.0 113.2,310.7 114.3,309.4 115.5,308.2 116.7,307.1 117.8,305.9 119.0,304.9 120.1,303.9 121.3,303.0 122.4,302.1 123.6,301.2 124.7,300.4 125.9,299.7 127.1,298.9 128.2,298.2 129.4,297.4 130.5,296.7 131.7,295.9 132.8,295.3 134.0,294.6 135.1,293.9 136.3,293.2 137.5,292.7 138.6,292.1 139.8,291.7 140.9,291.2 142.1,290.8 143.2,290.5 144.4,290.3 145.5,290.3 146.7,290.2 147.8,289.8 149.0,289.2 150.2,288.7 151.3,288.2 152.5,287.6 153.6,287.1 154.8,286.5 155.9,286.1 157.1,285.5 158.2,284.9 159.4,284.3 160.6,284.0 161.7,283.7 162.9,283.4 164.0,282.9 165.2,282.5 166.3,282.4 167.5,282.2 168.6,282.0 169.8,281.7 170.9,281.4 172.1,281.2 173.3,281.0 174.4,280.7 175.6,280.4 176.7,280.1 177.9,279.7 179.0,279.4 180.2,279.1 181.3,278.9 182.5,278.5 183.6,278.3 184.8,278.0 186.0,277.8 187.1,277.5 188.3,277.1 189.4,276.7 190.6,276.4 191.7,276.2 192.9,276.1 194.0,275.8 195.2,275.5 196.4,275.2 197.5,275.0 198.7,275.0 199.8,275.0 201.0,274.9 202.1,274.8 203.3,274.7 204.4,274.7 205.6,274.6 206.8,274.4 207.9,274.0 209.1,273.6 210.2,273.2 211.4,273.0 212.5,272.7 213.7,272.4 214.8,272.0 216.0,271.8 217.1,271.6 218.3,271.4 219.5,271.3 220.6,271.3 221.8,271.1 222.9,271.1 224.1,271.0 225.2,271.1 226.4,271.0 227.5,270.9 228.7,270.8 229.8,270.9 229.8,297.8 228.7,297.7 227.5,297.8 226.4,297.8 225.2,297.8 224.1,297.8 222.9,297.8 221.8,297.8 220.6,297.9 219.5,297.9 218.3,298.0 217.1,298.0 216.0,298.2 214.8,298.4 213.7,298.7 212.5,298.9 211.4,299.2 210.2,299.4 209.1,299.7 207.9,300.0 206.8,300.4 205.6,300.5 204.4,300.5 203.3,300.4 202.1,300.5 201.0,300.6 199.8,300.6 198.7,300.5 197.5,300.4 196.4,300.5 195.2,300.8 194.0,301.0 192.9,301.2 191.7,301.3 190.6,301.3 189.4,301.6 188.3,301.9 187.1,302.3 186.0,302.5 184.8,302.6 183.6,302.7 182.5,302.9 181.3,303.2 180.2,303.3 179.0,303.6 177.9,303.8 176.7,304.1 175.6,304.3 174.4,304.5 173.3,304.7 172.1,304.8 170.9,304.9 169.8,305.0 168.6,305.3 167.5,305.4 166.3,305.4 165.2,305.4 164.0,305.6 162.9,305.9 161.7,306.1 160.6,306.2 159.4,306.3 158.2,306.7 157.1,307.2 155.9,307.5 154.8,307.8 153.6,308.1 152.5,308.5 151.3,308.8 150.2,309.1 149.0,309.5 147.8,309.8 146.7,310.1 145.5,310.0 144.4,309.8 143.2,309.7 142.1,309.9 140.9,310.2 139.8,310.4 138.6,310.7 137.5,311.1 136.3,311.5 135.1,312.1 134.0,312.5 132.8,313.1 131.7,313.6 130.5,314.2 129.4,314.8 128.2,315.4 127.1,316.0 125.9,316.6 124.7,317.2 123.6,317.8 122.4,318.6 121.3,319.3 120.1,320.1 119.0,321.0 117.8,321.8 116.7,322.8 115.5,323.8 114.3,324.9 113.2,326.0 112.0,327.2 110.9,328.4 109.7,329.6 108.6,330.8 107.4,332.1 106.3,333.3 105.1,334.3 104.0,335.4 102.8,336.5 101.6,337.7 100.5,338.7 99.3,339.6 98.2,340.2 97.0,340.4 95.9,340.3 94.7,339.9 93.6,339.4 92.4,338.7 91.2,337.9 90.1,337.0 88.9,335.9 87.8,334.8 86.6,333.6 85.5,331.7 84.3,329.0 83.2,326.1 82.0,323.6 80.9,321.6 79.7,319.6 78.5,317.7 77.4,316.2 76.2,315.3 75.1,315.1 73.9,315.3 72.8,315.8 71.6,316.5 70.5,317.2 69.3,318.0 68.2,318.7 67.0,319.3 65.8,320.1 64.7,320.8 63.5,321.6 62.4,322.4 61.2,323.1 60.1,323.7 58.9,324.2 57.8,324.5 56.6,324.9 55.4,325.1 54.3,325.3 53.1,325.3 52.0,325.2 50.8,325.2 49.7,325.2 48.5,325.1 47.4,325.1 46.2,325.1 45.0,325.0" fill="rgba(0,114,189,0.198)"/>
<polygon points="45.0,323.6 46.2,323.5 47.4,323.5 48.5,323.4 49.7,323.4 50.8,323.3 52.0,323.2 53.1,323.0 54.3,322.8 55.4,322.4 56.6,321.8 57.8,321.2 58.9,320.6 60.1,320.0 61.2,319.3 62.4,318.6 63.5,317.9 64.7,317.2 65.8,316.4 67.0,315.7 68.2,314.9 69.3,314.1 70.5,313.1 71.6,312.1 72.8,311.1 73.9,310.4 75.1,309.9 76.2,309.9 77.4,311.0 78.5,313.0 79.7,315.5 80.9,318.1 82.0,320.5 83.2,323.2 84.3,326.1 85.5,328.8 86.6,330.7 87.8,332.0 88.9,333.3 90.1,334.4 91.2,335.5 92.4,336.4 93.6,337.1 94.7,337.6 95.9,337.8 97.0,337.8 98.2,337.4 99.3,336.9 100.5,336.1 101.6,335.2 102.8,334.2 104.0,333.1 105.1,332.1 106.3,330.9 107.4,329.4 108.6,327.8 109.7,326.0 110.9,324.3 112.0,322.6 113.2,321.1 114.3,319.6 115.5,318.2 116.7,316.8 117.8,315.5 119.0,314.2 120.1,313.0 121.3,311.8 122.4,310.9 123.6,309.9 124.7,309.0 125.9,308.1 127.1,307.3 128.2,306.5 129.4,305.6 130.5,304.8 131.7,303.9 132.8,303.2 134.0,302.4 135.1,301.6 136.3,300.6 137.5,299.8 138.6,299.3 139.8,299.0 140.9,298.7 142.1,298.3 143.2,297.9 144.4,297.4 145.5,297.0 146.7,296.5 147.8,296.2 149.0,295.7 150.2,295.3 151.3,294.8 152.5,294.4 153.6,293.9 154.8,293.4 155.9,293.0 157.1,292.7 158.2,292.4 159.4,292.3 160.6,292.1 161.7,291.9 162.9,291.6 164.0,291.3 165.2,291.1 166.3,291.0 167.5,290.8 168.6,290.7 169.8,290.6 170.9,290.7 172.1,290.5 173.3,290.4 174.4,290.3 175.6,290.4 176.7,290.4 177.9,290.4 179.0,290.3 180.2,290.2 181.3,290.2 182.5,290.2 183.6,290.1 184.8,289.8 186.0,289.3 187.1,288.9 188.3,288.8 189.4,288.8 190.6,288.8 191.7,288.6 192.9,288.5 194.0,288.4 195.2,288.5 196.4,288.4 197.5,288.2 198.7,287.9 199.8,287.5 201.0,287.1 202.1,286.6 203.3,286.1 204.4,285.8 205.6,285.7 206.8,285.7 207.9,285.7 209.1,285.5 210.2,285.0 211.4,284.7 212.5,284.4 213.7,284.3 214.8,284.0 216.0,283.7 217.1,283.4 218.3,283.1 219.5,283.0 220.6,282.8 221.8,282.8 222.9,282.9 224.1,282.9 225.2,282.8 226.4,282.8 227.5,282.8 228.7,282.9 229.8,282.7 229.8,302.3 228.7,302.4 227.5,302.4 226.4,302.4 225.2,302.4 224.1,302.5 222.9,302.5 221.8,302.5 220.6,302.5 219.5,302.6 218.3,302.8 217.1,303.1 216.0,303.4 214.8,303.7 213.7,304.0 212.5,304.1 211.4,304.4 210.2,304.7 209.1,305.1 207.9,305.4 206.8,305.4 205.6,305.3 204.4,305.4 203.3,305.8 202.1,306.2 201.0,306.7 199.8,307.1 198.7,307.5 197.5,307.8 196.4,308.0 195.2,308.0 194.0,308.0 192.9,308.0 191.7,308.2 190.6,308.3 189.4,308.3 188.3,308.3 187.1,308.4 186.0,308.7 184.8,309.2 183.6,309.5 182.5,309.6 181.3,309.5 180.2,309.5 179.0,309.6 177.9,309.7 176.7,309.7 175.6,309.6 174.4,309.5 173.3,309.6 172.1,309.7 170.9,309.8 169.8,309.7 168.6,309.7 167.5,309.8 166.3,309.9 165.2,309.9 164.0,310.0 162.9,310.1 161.7,310.3 160.6,310.4 159.4,310.4 158.2,310.4 157.1,310.6 155.9,310.7 154.8,311.0 153.6,311.3 152.5,311.6 151.3,311.9 150.2,312.2 149.0,312.5 147.8,312.8 146.7,313.0 145.5,313.3 144.4,313.6 143.2,314.0 142.1,314.3 140.9,314.5 139.8,314.6 138.6,314.8 137.5,315.3 136.3,316.0 135.1,316.9 134.0,317.6 132.8,318.3 131.7,319.0 130.5,319.8 129.4,320.6 128.2,321.4 127.1,322.1 125.9,322.9 124.7,323.7 123.6,324.5 122.4,325.4 121.3,326.3 120.1,327.4 119.0,328.5 117.8,329.7 116.7,331.0 115.5,332.3 114.3,333.6 113.2,335.0 112.0,336.4 110.9,338.0 109.7,339.6 108.6,341.3 107.4,342.8 106.3,344.2 105.1,345.3 104.0,346.2 102.8,347.1 101.6,348.0 100.5,348.7 99.3,349.4 98.2,349.8 97.0,349.9 95.9,349.8 94.7,349.3 93.6,348.5 92.4,347.5 91.2,346.2 90.1,344.8 88.9,343.2 87.8,341.5 86.6,339.8 85.5,337.4 84.3,334.3 83.2,330.9 82.0,327.7 80.9,324.9 79.7,321.9 78.5,319.0 77.4,316.6 76.2,315.2 75.1,314.9 73.9,315.1 72.8,315.7 71.6,316.4 70.5,317.2 69.3,318.0 68.2,318.7 67.0,319.2 65.8,319.8 64.7,320.4 63.5,320.9 62.4,321.5 61.2,322.0 60.1,322.5 58.9,323.0 57.8,323.5 56.6,324.0 55.4,324.5 54.3,324.9 53.1,324.9 52.0,325.0 50.8,325.0 49.7,325.0 48.5,325.1 47.4,325.1 46.2,325.1 45.0,325.0" fill="rgba(217,83,25,0.167)"/>
<polyline points="45.0,324.3 46.2,324.3 47.4,324.3 48.5,324.3 49.7,324.3 50.8,324.3 52.0,324.3 53.1,324.3 54.3,324.3 55.4,324.1 56.6,323.8 57.8,323.4 58.9,323.0 60.1,322.4 61.2,321.8 62.4,321.0 63.5,320.2 64.7,319.3 65.8,318.5 67.0,317.7 68.2,316.9 69.3,316.2 70.5,315.3 71.6,314.5 72.8,313.7 73.9,313.1 75.1,312.7 76.2,312.8 77.4,313.6 78.5,314.9 79.7,316.5 80.9,318.3 82.0,320.1 83.2,322.4 84.3,325.1 85.5,327.5 86.6,329.1 87.8,330.1 88.9,330.9 90.1,331.8 91.2,332.5 92.4,333.1 93.6,333.6 94.7,333.9 95.9,334.1 97.0,334.2 98.2,333.8 99.3,333.1 100.5,332.2 101.6,331.0 102.8,329.8 104.0,328.6 105.1,327.5 106.3,326.4 107.4,325.1 108.6,323.8 109.7,322.5 110.9,321.2 112.0,319.9 113.2,318.7 114.3,317.6 115.5,316.4 116.7,315.3 117.8,314.2 119.0,313.2 120.1,312.2 121.3,311.4 122.4,310.5 123.6,309.7 124.7,308.9 125.9,308.2 127.1,307.5 128.2,306.8 129.4,306.0 130.5,305.3 131.7,304.6 132.8,304.0 134.0,303.3 135.1,302.7 136.3,302.0 137.5,301.5 138.6,301.0 139.8,300.6 140.9,300.2 142.1,299.8 143.2,299.5 144.4,299.5 145.5,299.5 146.7,299.4 147.8,299.0 149.0,298.6 150.2,298.0 151.3,297.6 152.5,297.1 153.6,296.6 154.8,296.1 155.9,295.7 157.1,295.2 158.2,294.6 159.4,294.1 160.6,293.8 161.7,293.6 162.9,293.3 164.0,292.9 165.2,292.6 166.3,292.5 167.5,292.4 168.6,292.2 169.8,291.9 170.9,291.7 172.1,291.5 173.3,291.4 174.4,291.1 175.6,290.8 176.7,290.6 177.9,290.3 179.0,290.0 180.2,289.7 181.3,289.5 182.5,289.2 183.6,289.0 184.8,288.8 186.0,288.7 187.1,288.4 188.3,288.0 189.4,287.6 190.6,287.3 191.7,287.2 192.9,287.2 194.0,286.9 195.2,286.6 196.4,286.3 197.5,286.2 198.7,286.3 199.8,286.3 201.0,286.2 202.1,286.1 203.3,286.1 204.4,286.1 205.6,286.1 206.8,285.9 207.9,285.5 209.1,285.2 210.2,284.8 211.4,284.6 212.5,284.3 213.7,284.1 214.8,283.8 216.0,283.6 217.1,283.4 218.3,283.3 219.5,283.2 220.6,283.2 221.8,283.1 222.9,283.1 224.1,283.0 225.2,283.1 226.4,283.0 227.5,283.0 228.7,283.0 229.8,283.1" fill="none" stroke="#1170b4" stroke-width="2.4" stroke-linejoin="round" stroke-linecap="butt"/>
<polyline points="45.0,324.3 46.2,324.3 47.4,324.3 48.5,324.2 49.7,324.2 50.8,324.1 52.0,324.1 53.1,324.0 54.3,323.8 55.4,323.5 56.6,322.9 57.8,322.4 58.9,321.8 60.1,321.3 61.2,320.7 62.4,320.1 63.5,319.5 64.7,318.9 65.8,318.2 67.0,317.6 68.2,316.9 69.3,316.2 70.5,315.3 71.6,314.4 72.8,313.6 73.9,312.9 75.1,312.6 76.2,312.7 77.4,314.0 78.5,316.1 79.7,318.8 80.9,321.5 82.0,324.1 83.2,326.9 84.3,330.1 85.5,332.9 86.6,335.0 87.8,336.5 88.9,337.9 90.1,339.2 91.2,340.4 92.4,341.4 93.6,342.3 94.7,342.9 95.9,343.2 97.0,343.3 98.2,343.1 99.3,342.6 100.5,341.9 101.6,341.1 102.8,340.1 104.0,339.2 105.1,338.2 106.3,337.1 107.4,335.7 108.6,334.1 109.7,332.4 110.9,330.7 112.0,329.1 113.2,327.7 114.3,326.3 115.5,324.9 116.7,323.5 117.8,322.2 119.0,321.0 120.1,319.8 121.3,318.7 122.4,317.8 123.6,316.9 124.7,316.0 125.9,315.2 127.1,314.4 128.2,313.6 129.4,312.7 130.5,311.9 131.7,311.1 132.8,310.4 134.0,309.6 135.1,308.9 136.3,308.0 137.5,307.2 138.6,306.7 139.8,306.4 140.9,306.2 142.1,305.9 143.2,305.6 144.4,305.1 145.5,304.7 146.7,304.4 147.8,304.1 149.0,303.7 150.2,303.3 151.3,302.9 152.5,302.6 153.6,302.2 154.8,301.8 155.9,301.4 157.1,301.2 158.2,301.0 159.4,300.9 160.6,300.8 161.7,300.7 162.9,300.4 164.0,300.2 165.2,300.1 166.3,300.0 167.5,299.9 168.6,299.8 169.8,299.8 170.9,299.8 172.1,299.7 173.3,299.7 174.4,299.5 175.6,299.7 176.7,299.7 177.9,299.8 179.0,299.6 180.2,299.6 181.3,299.6 182.5,299.7 183.6,299.6 184.8,299.3 186.0,298.8 187.1,298.4 188.3,298.3 189.4,298.4 190.6,298.3 191.7,298.2 192.9,298.1 194.0,298.1 195.2,298.1 196.4,298.1 197.5,297.9 198.7,297.6 199.8,297.2 201.0,296.8 202.1,296.3 203.3,295.9 204.4,295.5 205.6,295.5 206.8,295.5 207.9,295.5 209.1,295.3 210.2,294.9 211.4,294.5 212.5,294.3 213.7,294.2 214.8,293.9 216.0,293.6 217.1,293.3 218.3,293.0 219.5,292.9 220.6,292.8 221.8,292.8 222.9,292.8 224.1,292.9 225.2,292.8 226.4,292.7 227.5,292.7 228.7,292.8 229.8,292.7" fill="none" stroke="#d4541c" stroke-width="2.4" stroke-linejoin="round" stroke-linecap="butt"/>
<line x1="56.6" y1="250.0" x2="56.6" y2="379.2" stroke="#111" stroke-width="1.85" stroke-dasharray="6.9,5.5" stroke-dashoffset="1.9"/>
<path d="M45.8,250.6 V379.2 H230.4" fill="none" stroke="#111" stroke-width="1.7"/>
<line x1="45.8" y1="250.6" x2="48.8" y2="250.6" stroke="#111" stroke-width="1.1"/>
<text x="39.9" y="255.1" font-size="12" fill="#1c1c1c" text-anchor="end" stroke="#1c1c1c" stroke-width="0.22">2</text>
<line x1="45.8" y1="287.4" x2="48.8" y2="287.4" stroke="#111" stroke-width="1.1"/>
<text x="39.9" y="291.9" font-size="12" fill="#1c1c1c" text-anchor="end" stroke="#1c1c1c" stroke-width="0.22">1</text>
<line x1="45.8" y1="324.3" x2="48.8" y2="324.3" stroke="#111" stroke-width="1.1"/>
<text x="39.9" y="328.8" font-size="12" fill="#1c1c1c" text-anchor="end" stroke="#1c1c1c" stroke-width="0.22">0</text>
<line x1="45.8" y1="361.2" x2="48.8" y2="361.2" stroke="#111" stroke-width="1.1"/>
<text x="39.9" y="365.7" font-size="12" fill="#1c1c1c" text-anchor="end" stroke="#1c1c1c" stroke-width="0.22">-1</text>
<line x1="56.6" y1="379.2" x2="56.6" y2="376.2" stroke="#111" stroke-width="1.1"/>
<text x="56.6" y="397.4" font-size="12" fill="#1c1c1c" text-anchor="middle" stroke="#1c1c1c" stroke-width="0.22">0</text>
<line x1="114.3" y1="379.2" x2="114.3" y2="376.2" stroke="#111" stroke-width="1.1"/>
<text x="114.3" y="397.4" font-size="12" fill="#1c1c1c" text-anchor="middle" stroke="#1c1c1c" stroke-width="0.22">1</text>
<line x1="172.1" y1="379.2" x2="172.1" y2="376.2" stroke="#111" stroke-width="1.1"/>
<text x="172.1" y="397.4" font-size="12" fill="#1c1c1c" text-anchor="middle" stroke="#1c1c1c" stroke-width="0.22">2</text>
<line x1="229.8" y1="379.2" x2="229.8" y2="376.2" stroke="#111" stroke-width="1.1"/>
<text x="229.8" y="397.4" font-size="12" fill="#1c1c1c" text-anchor="middle" stroke="#1c1c1c" stroke-width="0.22">3</text>
<text transform="translate(118.29,409.90) scale(0.9820,1)" font-size="10.6" fill="#1c1c1c" stroke="#1c1c1c" stroke-width="0.38">Time (s)</text>
<text transform="translate(28.4,312.6) rotate(-90)" font-size="10.6" fill="#1c1c1c" stroke="#1c1c1c" stroke-width="0.36" text-anchor="middle" textLength="92.5" lengthAdjust="spacingAndGlyphs">Pupil diameter (a.u.)</text>
<rect x="64.8" y="239.3" width="31.3" height="25.3" fill="#5e5e5e"/>
<rect x="77.42" y="240.65" width="1.36" height="1.3" fill="#ebebeb"/>
<rect x="74.32" y="242.95" width="1.36" height="1.3" fill="#ebebeb"/>
<rect x="78.22" y="244.15" width="1.36" height="1.3" fill="#ebebeb"/>
<rect x="72.02" y="247.55" width="1.36" height="1.3" fill="#ebebeb"/>
<rect x="71.72" y="250.65" width="1.36" height="1.3" fill="#ebebeb"/>
<rect x="73.62" y="251.15" width="1.36" height="1.3" fill="#ebebeb"/>
<rect x="75.62" y="251.15" width="1.36" height="1.3" fill="#ebebeb"/>
<rect x="71.22" y="257.35" width="1.36" height="1.3" fill="#ebebeb"/>
<rect x="74.82" y="257.65" width="1.36" height="1.3" fill="#ebebeb"/>
<rect x="70.02" y="262.35" width="1.36" height="1.3" fill="#ebebeb"/>
<rect x="74.32" y="262.75" width="1.36" height="1.3" fill="#ebebeb"/>
<rect x="86.72" y="240.65" width="1.36" height="1.3" fill="#ebebeb"/>
<rect x="84.92" y="242.95" width="1.36" height="1.3" fill="#ebebeb"/>
<rect x="89.82" y="244.15" width="1.36" height="1.3" fill="#ebebeb"/>
<rect x="81.62" y="246.55" width="1.36" height="1.3" fill="#ebebeb"/>
<rect x="82.12" y="248.05" width="1.36" height="1.3" fill="#ebebeb"/>
<rect x="81.32" y="250.05" width="1.36" height="1.3" fill="#ebebeb"/>
<rect x="83.92" y="250.05" width="1.36" height="1.3" fill="#ebebeb"/>
<rect x="87.52" y="250.35" width="1.36" height="1.3" fill="#ebebeb"/>
<rect x="90.62" y="248.85" width="1.36" height="1.3" fill="#ebebeb"/>
<rect x="90.62" y="252.25" width="1.36" height="1.3" fill="#ebebeb"/>
<rect x="83.92" y="256.85" width="1.36" height="1.3" fill="#ebebeb"/>
<rect x="87.52" y="257.05" width="1.36" height="1.3" fill="#ebebeb"/>
<rect x="84.42" y="262.35" width="1.36" height="1.3" fill="#ebebeb"/>
<rect x="87.52" y="262.35" width="1.36" height="1.3" fill="#ebebeb"/>
<rect x="64.8" y="269.3" width="31.3" height="25.6" fill="#5e5e5e"/>
<rect x="71.22" y="270.85" width="1.36" height="1.3" fill="#ebebeb"/>
<rect x="70.02" y="273.55" width="1.36" height="1.3" fill="#ebebeb"/>
<rect x="74.02" y="272.85" width="1.36" height="1.3" fill="#ebebeb"/>
<rect x="66.12" y="277.45" width="1.36" height="1.3" fill="#ebebeb"/>
<rect x="64.72" y="278.55" width="1.36" height="1.3" fill="#ebebeb"/>
<rect x="75.92" y="277.45" width="1.36" height="1.3" fill="#ebebeb"/>
<rect x="72.82" y="281.05" width="1.36" height="1.3" fill="#ebebeb"/>
<rect x="74.82" y="281.05" width="1.36" height="1.3" fill="#ebebeb"/>
<rect x="76.62" y="280.55" width="1.36" height="1.3" fill="#ebebeb"/>
<rect x="72.02" y="287.55" width="1.36" height="1.3" fill="#ebebeb"/>
<rect x="75.62" y="287.55" width="1.36" height="1.3" fill="#ebebeb"/>
<rect x="71.72" y="292.45" width="1.36" height="1.3" fill="#ebebeb"/>
<rect x="75.92" y="292.45" width="1.36" height="1.3" fill="#ebebeb"/>
<rect x="87.52" y="269.25" width="1.36" height="1.3" fill="#ebebeb"/>
<rect x="85.22" y="272.05" width="1.36" height="1.3" fill="#ebebeb"/>
<rect x="89.52" y="272.05" width="1.36" height="1.3" fill="#ebebeb"/>
<rect x="84.42" y="277.45" width="1.36" height="1.3" fill="#ebebeb"/>
<rect x="90.32" y="277.45" width="1.36" height="1.3" fill="#ebebeb"/>
<rect x="83.62" y="281.05" width="1.36" height="1.3" fill="#ebebeb"/>
<rect x="86.22" y="280.55" width="1.36" height="1.3" fill="#ebebeb"/>
<rect x="88.72" y="280.55" width="1.36" height="1.3" fill="#ebebeb"/>
<rect x="91.02" y="281.05" width="1.36" height="1.3" fill="#ebebeb"/>
<rect x="85.62" y="286.75" width="1.36" height="1.3" fill="#ebebeb"/>
<rect x="88.72" y="286.75" width="1.36" height="1.3" fill="#ebebeb"/>
<rect x="85.22" y="292.45" width="1.36" height="1.3" fill="#ebebeb"/>
<rect x="88.22" y="292.45" width="1.36" height="1.3" fill="#ebebeb"/>
<line x1="100.9" y1="253.6" x2="106.1" y2="253.6" stroke="#1b6fa3" stroke-width="1.6"/>
<text transform="translate(108.20,257.80) scale(0.8437,1)" font-size="10.4" fill="#2b7ca8" stroke="#2b7ca8" stroke-width="0.2">Face to Face</text>
<line x1="100.2" y1="280.2" x2="105.8" y2="280.2" stroke="#cf5a28" stroke-width="1.6"/>
<text transform="translate(107.18,283.70) scale(0.8688,1)" font-size="10.4" fill="#c56332" stroke="#c56332" stroke-width="0.2">Back to Back</text>
<text transform="translate(11.27,223.70) scale(1.0084,1)" font-size="19.0" fill="#111" stroke="#111" stroke-width="0.35">D</text>
<text transform="translate(93.89,229.70) scale(0.9437,1)" font-size="14.7" fill="#111" stroke="#111" stroke-width="0.25">Experiment 2a</text>
<polygon points="282.7,323.6 283.9,324.0 285.0,324.3 286.2,324.5 287.4,324.7 288.5,324.8 289.7,324.8 290.8,324.8 292.0,324.7 293.1,324.5 294.3,324.2 295.5,323.7 296.6,323.3 297.8,322.8 298.9,322.3 300.1,321.6 301.2,320.9 302.4,320.1 303.6,319.4 304.7,318.7 305.9,318.1 307.0,317.6 308.2,317.0 309.4,316.4 310.5,316.0 311.7,315.7 312.8,315.6 314.0,316.2 315.1,317.3 316.3,318.6 317.5,319.9 318.6,321.4 319.8,323.5 320.9,325.7 322.1,327.9 323.2,329.8 324.4,331.2 325.6,332.2 326.7,333.2 327.9,334.2 329.0,335.0 330.2,335.6 331.4,336.0 332.5,336.1 333.7,335.9 334.8,335.3 336.0,334.5 337.1,333.5 338.3,332.4 339.5,331.2 340.6,330.1 341.8,329.0 342.9,327.7 344.1,326.4 345.3,325.0 346.4,323.5 347.6,322.1 348.7,320.7 349.9,319.3 351.0,318.0 352.2,316.9 353.4,315.8 354.5,314.7 355.7,313.7 356.8,312.6 358.0,311.6 359.1,310.5 360.3,309.5 361.5,308.4 362.6,307.3 363.8,306.4 364.9,305.5 366.1,304.6 367.3,303.8 368.4,303.0 369.6,302.3 370.7,301.5 371.9,300.7 373.0,299.9 374.2,299.3 375.4,298.8 376.5,298.2 377.7,297.7 378.8,296.8 380.0,296.0 381.1,295.2 382.3,294.7 383.5,294.1 384.6,293.5 385.8,292.9 386.9,292.3 388.1,291.8 389.3,291.3 390.4,290.8 391.6,290.3 392.7,289.9 393.9,289.6 395.0,289.2 396.2,288.8 397.4,288.2 398.5,287.7 399.7,287.2 400.8,286.8 402.0,286.5 403.2,286.1 404.3,285.8 405.5,285.5 406.6,285.2 407.8,284.8 408.9,284.3 410.1,283.8 411.3,283.7 412.4,283.6 413.6,283.3 414.7,282.8 415.9,282.1 417.0,281.6 418.2,281.3 419.4,281.0 420.5,280.6 421.7,280.2 422.8,279.8 424.0,279.6 425.2,279.4 426.3,278.9 427.5,278.5 428.6,278.1 429.8,278.0 430.9,277.8 432.1,277.6 433.3,277.3 434.4,277.1 435.6,276.8 436.7,276.4 437.9,275.9 439.1,275.5 440.2,275.1 441.4,275.0 442.5,274.9 443.7,274.8 444.8,274.7 446.0,274.5 447.2,274.3 448.3,274.1 449.5,273.9 450.6,273.8 451.8,273.6 452.9,273.3 454.1,273.2 455.3,273.1 456.4,273.3 457.6,273.3 458.7,273.2 459.9,273.0 461.1,272.8 462.2,272.7 463.4,272.6 464.5,272.5 465.7,272.2 466.8,271.9 468.0,271.7 468.0,299.3 466.8,299.6 465.7,299.8 464.5,300.1 463.4,300.2 462.2,300.3 461.1,300.4 459.9,300.5 458.7,300.7 457.6,300.7 456.4,300.7 455.3,300.5 454.1,300.5 452.9,300.6 451.8,300.8 450.6,300.9 449.5,301.0 448.3,301.1 447.2,301.2 446.0,301.4 444.8,301.5 443.7,301.6 442.5,301.6 441.4,301.6 440.2,301.7 439.1,301.9 437.9,302.2 436.7,302.7 435.6,302.9 434.4,303.1 433.3,303.3 432.1,303.5 430.9,303.6 429.8,303.6 428.6,303.6 427.5,303.8 426.3,304.1 425.2,304.4 424.0,304.5 422.8,304.6 421.7,304.7 420.5,305.0 419.4,305.2 418.2,305.4 417.0,305.6 415.9,305.9 414.7,306.4 413.6,306.8 412.4,307.0 411.3,307.0 410.1,307.1 408.9,307.4 407.8,307.8 406.6,308.2 405.5,308.5 404.3,308.7 403.2,308.9 402.0,309.2 400.8,309.5 399.7,309.9 398.5,310.3 397.4,310.8 396.2,311.3 395.0,311.7 393.9,312.0 392.7,312.3 391.6,312.6 390.4,313.1 389.3,313.5 388.1,314.0 386.9,314.3 385.8,314.9 384.6,315.4 383.5,315.9 382.3,316.3 381.1,316.7 380.0,317.4 378.8,318.1 377.7,318.8 376.5,319.2 375.4,319.6 374.2,320.0 373.0,320.5 371.9,321.1 370.7,321.7 369.6,322.4 368.4,322.9 367.3,323.5 366.1,324.2 364.9,324.9 363.8,325.6 362.6,326.5 361.5,327.3 360.3,328.3 359.1,329.1 358.0,330.0 356.8,330.9 355.7,331.8 354.5,332.7 353.4,333.6 352.2,334.5 351.0,335.6 349.9,336.7 348.7,337.9 347.6,339.0 346.4,340.2 345.3,341.4 344.1,342.5 342.9,343.6 341.8,344.6 340.6,345.5 339.5,346.3 338.3,347.2 337.1,348.1 336.0,348.8 334.8,349.3 333.7,349.6 332.5,349.5 331.4,349.0 330.2,348.1 329.0,347.0 327.9,345.6 326.7,344.1 325.6,342.5 324.4,340.9 323.2,338.9 322.1,336.4 320.9,333.6 319.8,330.8 318.6,328.3 317.5,326.2 316.3,324.4 315.1,322.6 314.0,321.2 312.8,320.3 311.7,320.1 310.5,320.2 309.4,320.4 308.2,320.8 307.0,321.2 305.9,321.6 304.7,322.0 303.6,322.6 302.4,323.1 301.2,323.8 300.1,324.3 298.9,324.9 297.8,325.3 296.6,325.7 295.5,326.1 294.3,326.4 293.1,326.6 292.0,326.8 290.8,326.7 289.7,326.7 288.5,326.6 287.4,326.4 286.2,326.2 285.0,325.9 283.9,325.5 282.7,325.0" fill="rgba(0,114,189,0.189)"/>
<polygon points="282.7,323.6 283.9,324.0 285.0,324.3 286.2,324.5 287.4,324.7 288.5,324.8 289.7,324.8 290.8,324.8 292.0,324.7 293.1,324.5 294.3,324.2 295.5,323.8 296.6,323.3 297.8,322.8 298.9,322.0 300.1,321.1 301.2,320.0 302.4,318.9 303.6,317.8 304.7,316.8 305.9,315.9 307.0,315.1 308.2,314.3 309.4,313.6 310.5,312.9 311.7,312.5 312.8,312.5 314.0,313.4 315.1,314.9 316.3,316.7 317.5,318.5 318.6,320.6 319.8,323.1 320.9,325.9 322.1,328.6 323.2,330.9 324.4,332.6 325.6,334.0 326.7,335.2 327.9,336.4 329.0,337.4 330.2,338.3 331.4,338.8 332.5,339.0 333.7,338.8 334.8,338.4 336.0,337.7 337.1,336.9 338.3,335.9 339.5,334.9 340.6,333.9 341.8,332.8 342.9,331.6 344.1,330.2 345.3,328.7 346.4,327.1 347.6,325.5 348.7,323.9 349.9,322.3 351.0,320.6 352.2,319.1 353.4,317.6 354.5,316.2 355.7,314.9 356.8,313.7 358.0,312.6 359.1,311.4 360.3,310.3 361.5,309.3 362.6,308.2 363.8,307.1 364.9,306.0 366.1,305.0 367.3,304.0 368.4,303.0 369.6,302.2 370.7,301.4 371.9,300.8 373.0,300.0 374.2,299.3 375.4,298.4 376.5,297.5 377.7,296.6 378.8,295.9 380.0,295.3 381.1,294.7 382.3,294.1 383.5,293.4 384.6,292.8 385.8,292.3 386.9,291.7 388.1,291.2 389.3,290.6 390.4,290.2 391.6,289.7 392.7,289.3 393.9,288.8 395.0,288.4 396.2,287.8 397.4,287.4 398.5,287.1 399.7,286.9 400.8,286.7 402.0,286.2 403.2,285.7 404.3,285.2 405.5,284.6 406.6,284.1 407.8,283.7 408.9,283.5 410.1,283.4 411.3,283.4 412.4,283.1 413.6,282.6 414.7,282.0 415.9,281.5 417.0,281.1 418.2,280.7 419.4,280.4 420.5,280.1 421.7,279.8 422.8,279.3 424.0,278.8 425.2,278.3 426.3,278.1 427.5,277.8 428.6,277.4 429.8,276.9 430.9,276.4 432.1,276.1 433.3,275.7 434.4,275.4 435.6,275.0 436.7,274.6 437.9,274.0 439.1,273.3 440.2,272.9 441.4,272.5 442.5,272.3 443.7,271.9 444.8,271.5 446.0,271.0 447.2,270.7 448.3,270.5 449.5,270.4 450.6,270.1 451.8,269.8 452.9,269.5 454.1,269.3 455.3,269.1 456.4,269.0 457.6,268.9 458.7,268.9 459.9,268.8 461.1,268.6 462.2,268.2 463.4,268.1 464.5,268.1 465.7,268.1 466.8,268.1 468.0,267.9 468.0,294.6 466.8,294.7 465.7,294.7 464.5,294.6 463.4,294.5 462.2,294.7 461.1,294.9 459.9,295.1 458.7,295.2 457.6,295.1 456.4,295.0 455.3,295.1 454.1,295.2 452.9,295.4 451.8,295.6 450.6,295.9 449.5,296.1 448.3,296.1 447.2,296.3 446.0,296.5 444.8,297.0 443.7,297.3 442.5,297.6 441.4,297.8 440.2,298.1 439.1,298.5 437.9,299.0 436.7,299.6 435.6,300.0 434.4,300.3 433.3,300.6 432.1,300.9 430.9,301.2 429.8,301.6 428.6,302.1 427.5,302.4 426.3,302.6 425.2,302.8 424.0,303.1 422.8,303.6 421.7,304.0 420.5,304.2 419.4,304.4 418.2,304.7 417.0,305.0 415.9,305.3 414.7,305.8 413.6,306.3 412.4,306.8 411.3,307.1 410.1,307.0 408.9,307.0 407.8,307.2 406.6,307.6 405.5,308.1 404.3,308.6 403.2,309.1 402.0,309.6 400.8,310.0 399.7,310.2 398.5,310.3 397.4,310.6 396.2,311.0 395.0,311.5 393.9,311.8 392.7,312.3 391.6,312.7 390.4,313.1 389.3,313.5 388.1,314.0 386.9,314.5 385.8,315.0 384.6,315.5 383.5,315.9 382.3,316.5 381.1,316.9 380.0,317.4 378.8,317.8 377.7,318.3 376.5,319.1 375.4,319.8 374.2,320.4 373.0,320.9 371.9,321.4 370.7,321.8 369.6,322.4 368.4,323.0 367.3,323.7 366.1,324.5 364.9,325.3 363.8,326.1 362.6,327.0 361.5,327.8 360.3,328.7 359.1,329.6 358.0,330.5 356.8,331.4 355.7,332.4 354.5,333.5 353.4,334.7 352.2,336.1 351.0,337.5 349.9,338.9 348.7,340.5 347.6,342.0 346.4,343.6 345.3,345.1 344.1,346.5 342.9,347.8 341.8,349.0 340.6,350.0 339.5,350.9 338.3,351.8 337.1,352.7 336.0,353.4 334.8,353.8 333.7,354.1 332.5,353.9 331.4,353.3 330.2,352.2 329.0,350.9 327.9,349.2 326.7,347.4 325.6,345.4 324.4,343.4 323.2,340.9 322.1,337.9 320.9,334.4 319.8,331.0 318.6,327.8 317.5,325.1 316.3,322.7 315.1,320.4 314.0,318.4 312.8,317.2 311.7,317.0 310.5,317.2 309.4,317.6 308.2,318.1 307.0,318.8 305.9,319.4 304.7,320.1 303.6,320.9 302.4,321.9 301.2,322.9 300.1,323.8 298.9,324.7 297.8,325.3 296.6,325.7 295.5,326.1 294.3,326.4 293.1,326.6 292.0,326.8 290.8,326.7 289.7,326.7 288.5,326.6 287.4,326.4 286.2,326.2 285.0,325.9 283.9,325.5 282.7,325.0" fill="rgba(217,83,25,0.159)"/>
<polyline points="282.7,324.3 283.9,324.7 285.0,325.1 286.2,325.3 287.4,325.5 288.5,325.7 289.7,325.7 290.8,325.8 292.0,325.8 293.1,325.6 294.3,325.3 295.5,324.9 296.6,324.5 297.8,324.1 298.9,323.6 300.1,323.0 301.2,322.3 302.4,321.6 303.6,321.0 304.7,320.4 305.9,319.9 307.0,319.4 308.2,318.9 309.4,318.4 310.5,318.1 311.7,317.9 312.8,318.0 314.0,318.7 315.1,319.9 316.3,321.3 317.5,322.8 318.6,324.6 319.8,326.8 320.9,329.2 322.1,331.6 323.2,333.7 324.4,335.4 325.6,336.6 326.7,337.9 327.9,339.1 329.0,340.1 330.2,341.0 331.4,341.6 332.5,341.9 333.7,341.9 334.8,341.6 336.0,341.0 337.1,340.2 338.3,339.4 339.5,338.4 340.6,337.6 341.8,336.7 342.9,335.7 344.1,334.6 345.3,333.4 346.4,332.2 347.6,331.0 348.7,329.8 349.9,328.6 351.0,327.5 352.2,326.4 353.4,325.5 354.5,324.5 355.7,323.6 356.8,322.6 358.0,321.7 359.1,320.7 360.3,319.8 361.5,318.8 362.6,317.8 363.8,316.9 364.9,316.1 366.1,315.3 367.3,314.6 368.4,313.9 369.6,313.2 370.7,312.5 371.9,311.8 373.0,311.1 374.2,310.5 375.4,310.1 376.5,309.6 377.7,309.1 378.8,308.3 380.0,307.5 381.1,306.8 382.3,306.3 383.5,305.8 384.6,305.2 385.8,304.6 386.9,304.1 388.1,303.6 389.3,303.1 390.4,302.7 391.6,302.2 392.7,301.8 393.9,301.5 395.0,301.2 396.2,300.7 397.4,300.2 398.5,299.6 399.7,299.2 400.8,298.8 402.0,298.5 403.2,298.1 404.3,297.9 405.5,297.6 406.6,297.3 407.8,296.9 408.9,296.4 410.1,296.0 411.3,295.8 412.4,295.8 413.6,295.5 414.7,295.1 415.9,294.5 417.0,294.0 418.2,293.8 419.4,293.5 420.5,293.1 421.7,292.7 422.8,292.5 424.0,292.3 425.2,292.1 426.3,291.7 427.5,291.3 428.6,290.9 429.8,290.8 430.9,290.7 432.1,290.5 433.3,290.2 434.4,290.0 435.6,289.7 436.7,289.3 437.9,288.8 439.1,288.3 440.2,288.0 441.4,287.8 442.5,287.7 443.7,287.7 444.8,287.5 446.0,287.3 447.2,287.0 448.3,286.8 449.5,286.6 450.6,286.4 451.8,286.2 452.9,285.9 454.1,285.7 455.3,285.6 456.4,285.7 457.6,285.7 458.7,285.6 459.9,285.3 461.1,285.0 462.2,284.9 463.4,284.7 464.5,284.5 465.7,284.1 466.8,283.8 468.0,283.4" fill="none" stroke="#1170b4" stroke-width="2.4" stroke-linejoin="round" stroke-linecap="butt"/>
<polyline points="282.7,324.3 283.9,324.7 285.0,325.1 286.2,325.3 287.4,325.5 288.5,325.7 289.7,325.7 290.8,325.8 292.0,325.8 293.1,325.6 294.3,325.3 295.5,324.9 296.6,324.5 297.8,324.0 298.9,323.4 300.1,322.5 301.2,321.5 302.4,320.4 303.6,319.4 304.7,318.4 305.9,317.7 307.0,317.0 308.2,316.2 309.4,315.6 310.5,315.1 311.7,314.8 312.8,314.9 314.0,315.8 315.1,317.5 316.3,319.4 317.5,321.4 318.6,323.5 319.8,326.2 320.9,329.2 322.1,332.0 323.2,334.6 324.4,336.5 325.6,338.0 326.7,339.4 327.9,340.8 329.0,342.0 330.2,343.0 331.4,343.8 332.5,344.1 333.7,344.2 334.8,343.9 336.0,343.4 337.1,342.8 338.3,342.1 339.5,341.3 340.6,340.5 341.8,339.7 342.9,338.7 344.1,337.5 345.3,336.3 346.4,335.0 347.6,333.6 348.7,332.2 349.9,330.7 351.0,329.3 352.2,328.0 353.4,326.6 354.5,325.4 355.7,324.3 356.8,323.2 358.0,322.2 359.1,321.3 360.3,320.3 361.5,319.4 362.6,318.5 363.8,317.6 364.9,316.7 366.1,315.8 367.3,315.0 368.4,314.1 369.6,313.4 370.7,312.8 371.9,312.3 373.0,311.7 374.2,311.1 375.4,310.3 376.5,309.5 377.7,308.7 378.8,308.0 380.0,307.5 381.1,307.0 382.3,306.5 383.5,305.8 384.6,305.3 385.8,304.8 386.9,304.3 388.1,303.7 389.3,303.1 390.4,302.7 391.6,302.2 392.7,301.8 393.9,301.3 395.0,300.9 396.2,300.4 397.4,299.9 398.5,299.6 399.7,299.4 400.8,299.2 402.0,298.8 403.2,298.2 404.3,297.7 405.5,297.2 406.6,296.7 407.8,296.2 408.9,296.0 410.1,296.0 411.3,296.0 412.4,295.7 413.6,295.2 414.7,294.6 415.9,294.1 417.0,293.8 418.2,293.4 419.4,293.1 420.5,292.9 421.7,292.6 422.8,292.1 424.0,291.7 425.2,291.2 426.3,291.1 427.5,290.8 428.6,290.4 429.8,289.9 430.9,289.5 432.1,289.1 433.3,288.8 434.4,288.5 435.6,288.1 436.7,287.6 437.9,287.0 439.1,286.4 440.2,285.9 441.4,285.6 442.5,285.4 443.7,285.0 444.8,284.6 446.0,284.1 447.2,283.7 448.3,283.6 449.5,283.4 450.6,283.2 451.8,282.8 452.9,282.5 454.1,282.3 455.3,282.1 456.4,281.9 457.6,281.9 458.7,281.9 459.9,281.8 461.1,281.5 462.2,281.1 463.4,280.9 464.5,280.9 465.7,280.9 466.8,280.8 468.0,280.6" fill="none" stroke="#d4541c" stroke-width="2.4" stroke-linejoin="round" stroke-linecap="butt"/>
<line x1="294.3" y1="250.0" x2="294.3" y2="379.2" stroke="#111" stroke-width="1.85" stroke-dasharray="6.9,5.5" stroke-dashoffset="1.9"/>
<path d="M283.1,250.6 V379.2 H468.6" fill="none" stroke="#111" stroke-width="1.7"/>
<line x1="283.1" y1="250.6" x2="286.1" y2="250.6" stroke="#111" stroke-width="1.1"/>
<text x="277.2" y="255.1" font-size="12" fill="#1c1c1c" text-anchor="end" stroke="#1c1c1c" stroke-width="0.22">2</text>
<line x1="283.1" y1="287.4" x2="286.1" y2="287.4" stroke="#111" stroke-width="1.1"/>
<text x="277.2" y="291.9" font-size="12" fill="#1c1c1c" text-anchor="end" stroke="#1c1c1c" stroke-width="0.22">1</text>
<line x1="283.1" y1="324.3" x2="286.1" y2="324.3" stroke="#111" stroke-width="1.1"/>
<text x="277.2" y="328.8" font-size="12" fill="#1c1c1c" text-anchor="end" stroke="#1c1c1c" stroke-width="0.22">0</text>
<line x1="283.1" y1="361.2" x2="286.1" y2="361.2" stroke="#111" stroke-width="1.1"/>
<text x="277.2" y="365.7" font-size="12" fill="#1c1c1c" text-anchor="end" stroke="#1c1c1c" stroke-width="0.22">-1</text>
<line x1="294.3" y1="379.2" x2="294.3" y2="376.2" stroke="#111" stroke-width="1.1"/>
<text x="294.3" y="397.4" font-size="12" fill="#1c1c1c" text-anchor="middle" stroke="#1c1c1c" stroke-width="0.22">0</text>
<line x1="352.2" y1="379.2" x2="352.2" y2="376.2" stroke="#111" stroke-width="1.1"/>
<text x="352.2" y="397.4" font-size="12" fill="#1c1c1c" text-anchor="middle" stroke="#1c1c1c" stroke-width="0.22">1</text>
<line x1="410.1" y1="379.2" x2="410.1" y2="376.2" stroke="#111" stroke-width="1.1"/>
<text x="410.1" y="397.4" font-size="12" fill="#1c1c1c" text-anchor="middle" stroke="#1c1c1c" stroke-width="0.22">2</text>
<line x1="468.0" y1="379.2" x2="468.0" y2="376.2" stroke="#111" stroke-width="1.1"/>
<text x="468.0" y="397.4" font-size="12" fill="#1c1c1c" text-anchor="middle" stroke="#1c1c1c" stroke-width="0.22">3</text>
<text transform="translate(359.19,409.90) scale(0.9820,1)" font-size="10.6" fill="#1c1c1c" stroke="#1c1c1c" stroke-width="0.38">Time (s)</text>
<text transform="translate(265.2,312.6) rotate(-90)" font-size="10.6" fill="#1c1c1c" stroke="#1c1c1c" stroke-width="0.36" text-anchor="middle" textLength="92.5" lengthAdjust="spacingAndGlyphs">Pupil diameter (a.u.)</text>
<rect x="302.1" y="239.5" width="31.7" height="25.1" fill="#5e5e5e"/>
<rect x="309.32" y="240.65" width="1.36" height="1.3" fill="#ebebeb"/>
<rect x="312.42" y="240.65" width="1.36" height="1.3" fill="#ebebeb"/>
<rect x="309.32" y="246.55" width="1.36" height="1.3" fill="#ebebeb"/>
<rect x="312.92" y="246.55" width="1.36" height="1.3" fill="#ebebeb"/>
<rect x="305.92" y="251.15" width="1.36" height="1.3" fill="#ebebeb"/>
<rect x="309.52" y="252.35" width="1.36" height="1.3" fill="#ebebeb"/>
<rect x="305.92" y="254.25" width="1.36" height="1.3" fill="#ebebeb"/>
<rect x="312.92" y="252.65" width="1.36" height="1.3" fill="#ebebeb"/>
<rect x="316.02" y="253.05" width="1.36" height="1.3" fill="#ebebeb"/>
<rect x="315.22" y="255.75" width="1.36" height="1.3" fill="#ebebeb"/>
<rect x="307.52" y="258.85" width="1.36" height="1.3" fill="#ebebeb"/>
<rect x="312.62" y="259.95" width="1.36" height="1.3" fill="#ebebeb"/>
<rect x="309.82" y="261.95" width="1.36" height="1.3" fill="#ebebeb"/>
<rect x="322.22" y="240.35" width="1.36" height="1.3" fill="#ebebeb"/>
<rect x="326.82" y="240.65" width="1.36" height="1.3" fill="#ebebeb"/>
<rect x="321.92" y="245.45" width="1.36" height="1.3" fill="#ebebeb"/>
<rect x="325.32" y="245.75" width="1.36" height="1.3" fill="#ebebeb"/>
<rect x="321.42" y="251.95" width="1.36" height="1.3" fill="#ebebeb"/>
<rect x="324.22" y="252.25" width="1.36" height="1.3" fill="#ebebeb"/>
<rect x="325.72" y="252.25" width="1.36" height="1.3" fill="#ebebeb"/>
<rect x="325.32" y="255.45" width="1.36" height="1.3" fill="#ebebeb"/>
<rect x="318.82" y="258.45" width="1.36" height="1.3" fill="#ebebeb"/>
<rect x="322.92" y="259.95" width="1.36" height="1.3" fill="#ebebeb"/>
<rect x="319.82" y="261.95" width="1.36" height="1.3" fill="#ebebeb"/>
<rect x="302.1" y="269.3" width="31.7" height="25.8" fill="#5e5e5e"/>
<rect x="308.72" y="270.55" width="1.36" height="1.3" fill="#ebebeb"/>
<rect x="311.82" y="270.55" width="1.36" height="1.3" fill="#ebebeb"/>
<rect x="308.52" y="275.95" width="1.36" height="1.3" fill="#ebebeb"/>
<rect x="311.62" y="275.95" width="1.36" height="1.3" fill="#ebebeb"/>
<rect x="305.92" y="282.15" width="1.36" height="1.3" fill="#ebebeb"/>
<rect x="308.22" y="282.15" width="1.36" height="1.3" fill="#ebebeb"/>
<rect x="310.92" y="282.15" width="1.36" height="1.3" fill="#ebebeb"/>
<rect x="313.32" y="281.65" width="1.36" height="1.3" fill="#ebebeb"/>
<rect x="306.42" y="285.95" width="1.36" height="1.3" fill="#ebebeb"/>
<rect x="312.62" y="285.55" width="1.36" height="1.3" fill="#ebebeb"/>
<rect x="307.52" y="290.65" width="1.36" height="1.3" fill="#ebebeb"/>
<rect x="312.12" y="290.35" width="1.36" height="1.3" fill="#ebebeb"/>
<rect x="309.52" y="292.95" width="1.36" height="1.3" fill="#ebebeb"/>
<rect x="320.92" y="270.15" width="1.36" height="1.3" fill="#ebebeb"/>
<rect x="325.32" y="270.15" width="1.36" height="1.3" fill="#ebebeb"/>
<rect x="321.42" y="275.15" width="1.36" height="1.3" fill="#ebebeb"/>
<rect x="325.02" y="275.15" width="1.36" height="1.3" fill="#ebebeb"/>
<rect x="319.82" y="282.15" width="1.36" height="1.3" fill="#ebebeb"/>
<rect x="322.22" y="281.65" width="1.36" height="1.3" fill="#ebebeb"/>
<rect x="324.52" y="281.65" width="1.36" height="1.3" fill="#ebebeb"/>
<rect x="321.42" y="285.25" width="1.36" height="1.3" fill="#ebebeb"/>
<rect x="331.52" y="284.45" width="1.36" height="1.3" fill="#ebebeb"/>
<rect x="322.92" y="289.85" width="1.36" height="1.3" fill="#ebebeb"/>
<rect x="327.32" y="288.65" width="1.36" height="1.3" fill="#ebebeb"/>
<rect x="325.72" y="291.35" width="1.36" height="1.3" fill="#ebebeb"/>
<line x1="337.2" y1="253.2" x2="342.5" y2="253.2" stroke="#1b6fa3" stroke-width="1.6"/>
<text transform="translate(344.20,257.40) scale(0.8437,1)" font-size="10.4" fill="#2b7ca8" stroke="#2b7ca8" stroke-width="0.2">Face to Face</text>
<line x1="337.2" y1="279.7" x2="342.5" y2="279.7" stroke="#cf5a28" stroke-width="1.6"/>
<text transform="translate(344.19,283.30) scale(0.8571,1)" font-size="10.4" fill="#c56332" stroke="#c56332" stroke-width="0.2">Back to Back</text>
<text transform="translate(260.06,224.00) scale(0.7533,1)" font-size="19.0" fill="#111" stroke="#111" stroke-width="0.35">E</text>
<text transform="translate(335.56,229.70) scale(0.9712,1)" font-size="14.7" fill="#111" stroke="#111" stroke-width="0.25">Experiment 2b</text>
<rect x="631.0" y="350.1" width="74.8" height="8.0" fill="#dadada"/>
<rect x="631.0" y="353.1" width="74.8" height="2.1" rx="1" fill="#3e3e3e"/>
<polygon points="521.7,324.4 522.8,324.2 524.0,324.1 525.1,323.9 526.3,323.8 527.4,323.7 528.6,323.6 529.7,323.5 530.9,323.4 532.0,323.3 533.2,323.3 534.4,323.2 535.5,323.2 536.7,323.2 537.8,323.2 539.0,323.2 540.1,322.9 541.3,322.4 542.4,321.6 543.6,320.8 544.7,320.1 545.9,319.4 547.0,318.6 548.2,317.9 549.3,317.4 550.5,317.1 551.6,317.3 552.8,318.0 553.9,319.1 555.1,320.4 556.2,321.7 557.4,323.6 558.5,326.2 559.7,329.0 560.8,331.5 562.0,333.1 563.1,334.0 564.3,334.9 565.4,335.7 566.6,336.3 567.7,336.7 568.9,336.8 570.0,336.5 571.2,336.0 572.3,335.3 573.5,334.6 574.6,333.7 575.8,332.7 576.9,331.8 578.1,330.7 579.2,329.4 580.4,328.0 581.5,326.4 582.7,324.7 583.8,323.0 585.0,321.5 586.1,320.0 587.3,318.6 588.4,317.4 589.6,316.1 590.8,314.9 591.9,313.8 593.1,312.7 594.2,311.6 595.4,310.5 596.5,309.5 597.7,308.7 598.8,307.9 600.0,307.1 601.1,306.2 602.3,305.2 603.4,304.0 604.6,303.0 605.7,302.1 606.9,301.2 608.0,300.2 609.2,299.0 610.3,297.9 611.5,296.9 612.6,295.9 613.8,295.0 614.9,294.3 616.1,293.7 617.2,293.2 618.4,292.8 619.5,292.5 620.7,292.3 621.8,292.0 623.0,291.6 624.1,291.0 625.3,290.3 626.4,289.8 627.6,289.2 628.7,288.7 629.9,288.0 631.0,287.3 632.2,286.6 633.3,285.8 634.5,285.0 635.6,284.2 636.8,283.6 637.9,283.1 639.1,282.7 640.2,282.1 641.4,281.6 642.5,281.0 643.7,280.8 644.8,280.5 646.0,280.4 647.1,280.2 648.3,280.1 649.5,280.0 650.6,279.9 651.8,280.0 652.9,280.0 654.1,279.6 655.2,279.2 656.4,278.9 657.5,278.8 658.7,278.6 659.8,278.5 661.0,278.4 662.1,278.6 663.3,278.9 664.4,278.9 665.6,278.9 666.7,279.0 667.9,279.1 669.0,279.0 670.2,278.9 671.3,278.8 672.5,278.8 673.6,278.8 674.8,278.6 675.9,278.2 677.1,277.9 678.2,277.7 679.4,277.7 680.5,277.7 681.7,277.5 682.8,277.3 684.0,277.3 685.1,277.4 686.3,277.6 687.4,277.6 688.6,277.3 689.7,277.2 690.9,277.0 692.0,276.9 693.2,276.6 694.3,276.2 695.5,275.9 696.6,275.7 697.8,275.5 698.9,275.1 700.1,274.7 701.2,274.5 702.4,274.5 703.5,274.5 704.7,274.3 705.9,274.1 705.9,302.2 704.7,302.5 703.5,302.6 702.4,302.6 701.2,302.6 700.1,302.7 698.9,303.1 697.8,303.4 696.6,303.6 695.5,303.8 694.3,304.0 693.2,304.4 692.0,304.6 690.9,304.7 689.7,304.8 688.6,305.0 687.4,305.1 686.3,305.1 685.1,304.9 684.0,304.8 682.8,304.8 681.7,305.0 680.5,305.1 679.4,305.2 678.2,305.2 677.1,305.3 675.9,305.6 674.8,305.9 673.6,306.1 672.5,306.1 671.3,306.0 670.2,306.0 669.0,306.1 667.9,306.0 666.7,305.9 665.6,305.7 664.4,305.6 663.3,305.5 662.1,305.2 661.0,304.9 659.8,304.8 658.7,304.9 657.5,305.1 656.4,305.1 655.2,305.4 654.1,305.8 652.9,306.1 651.8,306.1 650.6,306.1 649.5,306.2 648.3,306.4 647.1,306.8 646.0,307.5 644.8,308.3 643.7,309.4 642.5,310.3 641.4,311.5 640.2,312.3 639.1,313.1 637.9,313.5 636.8,313.9 635.6,314.4 634.5,315.1 633.3,315.7 632.2,316.2 631.0,316.6 629.9,317.0 628.7,317.4 627.6,317.6 626.4,317.7 625.3,317.9 624.1,318.2 623.0,318.4 621.8,318.5 620.7,318.5 619.5,318.3 618.4,318.3 617.2,318.5 616.1,318.8 614.9,319.2 613.8,319.8 612.6,320.6 611.5,321.4 610.3,322.2 609.2,323.1 608.0,324.0 606.9,324.8 605.7,325.5 604.6,326.2 603.4,327.0 602.3,328.0 601.1,328.9 600.0,329.8 598.8,330.5 597.7,331.1 596.5,331.6 595.4,332.1 594.2,332.6 593.1,333.2 591.9,333.9 590.8,334.7 589.6,335.6 588.4,336.6 587.3,337.6 586.1,338.7 585.0,340.0 583.8,341.4 582.7,342.8 581.5,344.2 580.4,345.6 579.2,346.9 578.1,347.9 576.9,348.7 575.8,349.4 574.6,350.0 573.5,350.6 572.3,351.1 571.2,351.3 570.0,351.3 568.9,351.0 567.7,350.3 566.6,349.2 565.4,347.9 564.3,346.4 563.1,344.8 562.0,343.1 560.8,340.7 559.7,337.6 558.5,334.0 557.4,330.8 556.2,328.3 555.1,326.4 553.9,324.6 552.8,323.0 551.6,321.9 550.5,321.4 549.3,321.5 548.2,321.9 547.0,322.4 545.9,323.0 544.7,323.5 543.6,324.1 542.4,324.7 541.3,325.3 540.1,325.8 539.0,325.9 537.8,325.8 536.7,325.7 535.5,325.6 534.4,325.5 533.2,325.5 532.0,325.4 530.9,325.4 529.7,325.4 528.6,325.4 527.4,325.4 526.3,325.5 525.1,325.5 524.0,325.6 522.8,325.7 521.7,325.8" fill="rgba(0,114,189,0.220)"/>
<polygon points="521.7,324.4 522.8,324.2 524.0,324.0 525.1,323.9 526.3,323.7 527.4,323.5 528.6,323.3 529.7,323.1 530.9,322.9 532.0,322.7 533.2,322.5 534.4,322.4 535.5,322.2 536.7,322.0 537.8,321.7 539.0,321.5 540.1,321.1 541.3,320.6 542.4,320.0 543.6,319.4 544.7,318.8 545.9,318.2 547.0,317.5 548.2,316.8 549.3,316.3 550.5,316.0 551.6,316.2 552.8,316.9 553.9,318.0 555.1,319.4 556.2,320.8 557.4,323.0 558.5,326.0 559.7,329.3 560.8,332.2 562.0,334.1 563.1,335.2 564.3,336.2 565.4,337.1 566.6,337.8 567.7,338.3 568.9,338.5 570.0,338.5 571.2,338.1 572.3,337.4 573.5,336.6 574.6,335.7 575.8,334.7 576.9,333.8 578.1,332.9 579.2,332.0 580.4,331.0 581.5,330.0 582.7,328.9 583.8,327.8 585.0,326.7 586.1,325.7 587.3,324.6 588.4,323.5 589.6,322.3 590.8,321.2 591.9,320.0 593.1,318.7 594.2,317.5 595.4,316.2 596.5,315.1 597.7,314.0 598.8,312.8 600.0,311.8 601.1,310.7 602.3,309.5 603.4,308.4 604.6,307.2 605.7,306.2 606.9,305.0 608.0,304.0 609.2,303.1 610.3,302.3 611.5,301.6 612.6,301.0 613.8,300.4 614.9,299.9 616.1,299.2 617.2,298.6 618.4,298.2 619.5,298.1 620.7,297.9 621.8,297.5 623.0,297.1 624.1,296.8 625.3,296.7 626.4,296.5 627.6,296.2 628.7,295.9 629.9,295.6 631.0,295.5 632.2,295.3 633.3,295.2 634.5,295.0 635.6,294.9 636.8,294.7 637.9,294.4 639.1,294.1 640.2,293.8 641.4,293.6 642.5,293.6 643.7,293.3 644.8,292.9 646.0,292.4 647.1,292.3 648.3,292.1 649.5,292.0 650.6,291.7 651.8,291.6 652.9,291.6 654.1,291.7 655.2,291.7 656.4,291.6 657.5,291.5 658.7,291.3 659.8,291.0 661.0,290.8 662.1,290.9 663.3,291.0 664.4,291.1 665.6,291.1 666.7,291.2 667.9,291.2 669.0,291.2 670.2,291.2 671.3,291.4 672.5,291.4 673.6,291.3 674.8,291.2 675.9,291.3 677.1,291.4 678.2,291.5 679.4,291.6 680.5,291.5 681.7,291.3 682.8,291.2 684.0,291.2 685.1,291.2 686.3,290.9 687.4,290.6 688.6,290.2 689.7,290.0 690.9,289.9 692.0,290.0 693.2,290.0 694.3,290.0 695.5,289.7 696.6,289.5 697.8,289.3 698.9,289.0 700.1,288.6 701.2,288.3 702.4,288.1 703.5,287.9 704.7,287.6 705.9,287.4 705.9,316.1 704.7,316.2 703.5,316.5 702.4,316.6 701.2,316.8 700.1,317.0 698.9,317.3 697.8,317.6 696.6,317.8 695.5,317.9 694.3,318.1 693.2,318.1 692.0,318.0 690.9,317.9 689.7,318.0 688.6,318.2 687.4,318.5 686.3,318.8 685.1,319.1 684.0,319.0 682.8,319.0 681.7,319.1 680.5,319.3 679.4,319.4 678.2,319.3 677.1,319.2 675.9,319.0 674.8,318.9 673.6,319.0 672.5,319.1 671.3,319.1 670.2,319.0 669.0,319.0 667.9,319.0 666.7,319.0 665.6,318.9 664.4,318.9 663.3,318.9 662.1,318.8 661.0,318.7 659.8,318.8 658.7,319.1 657.5,319.3 656.4,319.4 655.2,319.5 654.1,319.5 652.9,319.4 651.8,319.4 650.6,319.5 649.5,319.8 648.3,319.8 647.1,320.0 646.0,320.2 644.8,320.7 643.7,321.0 642.5,321.3 641.4,321.4 640.2,321.6 639.1,321.9 637.9,322.3 636.8,322.8 635.6,323.2 634.5,323.6 633.3,324.1 632.2,324.5 631.0,324.9 629.9,325.3 628.7,325.7 627.6,326.1 626.4,326.4 625.3,326.6 624.1,326.7 623.0,326.9 621.8,327.2 620.7,327.4 619.5,327.4 618.4,327.4 617.2,327.6 616.1,328.0 614.9,328.5 613.8,328.8 612.6,329.1 611.5,329.3 610.3,329.6 609.2,329.9 608.0,330.2 606.9,330.6 605.7,331.1 604.6,331.6 603.4,332.1 602.3,332.7 601.1,333.3 600.0,334.0 598.8,334.6 597.7,335.2 596.5,335.9 595.4,336.7 594.2,337.5 593.1,338.3 591.9,339.2 590.8,340.2 589.6,341.1 588.4,342.1 587.3,343.0 586.1,343.9 585.0,344.8 583.8,345.7 582.7,346.7 581.5,347.6 580.4,348.5 579.2,349.4 578.1,350.1 576.9,350.9 575.8,351.6 574.6,352.3 573.5,353.1 572.3,353.6 571.2,353.9 570.0,353.8 568.9,353.3 567.7,352.5 566.6,351.3 565.4,349.9 564.3,348.3 563.1,346.6 562.0,344.7 560.8,342.1 559.7,338.5 558.5,334.4 557.4,330.7 556.2,327.9 555.1,325.9 553.9,323.9 552.8,322.3 551.6,321.2 550.5,320.7 549.3,320.8 548.2,321.1 547.0,321.5 545.9,322.0 544.7,322.4 543.6,322.8 542.4,323.2 541.3,323.7 540.1,324.0 539.0,324.3 537.8,324.4 536.7,324.5 535.5,324.6 534.4,324.6 533.2,324.7 532.0,324.8 530.9,324.9 529.7,325.0 528.6,325.1 527.4,325.3 526.3,325.4 525.1,325.5 524.0,325.6 522.8,325.7 521.7,325.8" fill="rgba(217,83,25,0.185)"/>
<polyline points="521.7,325.1 522.8,325.0 524.0,324.8 525.1,324.7 526.3,324.6 527.4,324.6 528.6,324.5 529.7,324.4 530.9,324.4 532.0,324.4 533.2,324.4 534.4,324.4 535.5,324.4 536.7,324.5 537.8,324.5 539.0,324.6 540.1,324.4 541.3,323.8 542.4,323.2 543.6,322.4 544.7,321.8 545.9,321.2 547.0,320.5 548.2,319.9 549.3,319.4 550.5,319.3 551.6,319.6 552.8,320.5 553.9,321.9 555.1,323.5 556.2,325.1 557.4,327.3 558.5,330.2 559.7,333.4 560.8,336.3 562.0,338.3 563.1,339.6 564.3,340.9 565.4,342.0 566.6,343.0 567.7,343.7 568.9,344.1 570.0,344.1 571.2,343.8 572.3,343.3 573.5,342.6 574.6,341.8 575.8,340.9 576.9,340.0 578.1,339.1 579.2,337.8 580.4,336.4 581.5,334.9 582.7,333.3 583.8,331.7 585.0,330.1 586.1,328.7 587.3,327.4 588.4,326.1 589.6,324.9 590.8,323.7 591.9,322.5 593.1,321.4 594.2,320.4 595.4,319.3 596.5,318.3 597.7,317.4 598.8,316.6 600.0,315.9 601.1,315.1 602.3,314.2 603.4,313.3 604.6,312.5 605.7,311.9 606.9,311.3 608.0,310.6 609.2,309.7 610.3,308.9 611.5,308.1 612.6,307.4 613.8,306.6 614.9,306.0 616.1,305.5 617.2,305.2 618.4,304.8 619.5,304.6 620.7,304.5 621.8,304.3 623.0,303.9 624.1,303.3 625.3,302.7 626.4,302.2 627.6,301.7 628.7,301.1 629.9,300.5 631.0,299.7 632.2,299.0 633.3,298.2 634.5,297.3 635.6,296.5 636.8,295.8 637.9,295.3 639.1,294.8 640.2,294.1 641.4,293.5 642.5,292.8 643.7,292.3 644.8,291.8 646.0,291.5 647.1,291.2 648.3,291.1 649.5,290.9 650.6,290.9 651.8,291.0 652.9,291.1 654.1,290.8 655.2,290.5 656.4,290.3 657.5,290.3 658.7,290.3 659.8,290.2 661.0,290.3 662.1,290.6 663.3,291.0 664.4,291.2 665.6,291.3 666.7,291.5 667.9,291.7 669.0,291.8 670.2,291.7 671.3,291.7 672.5,291.8 673.6,291.8 674.8,291.7 675.9,291.3 677.1,291.1 678.2,290.9 679.4,290.9 680.5,290.8 681.7,290.7 682.8,290.5 684.0,290.4 685.1,290.6 686.3,290.7 687.4,290.7 688.6,290.4 689.7,290.3 690.9,290.1 692.0,290.0 693.2,289.6 694.3,289.2 695.5,288.9 696.6,288.7 697.8,288.4 698.9,288.0 700.1,287.5 701.2,287.2 702.4,287.2 703.5,287.1 704.7,286.9 705.9,286.5" fill="none" stroke="#1170b4" stroke-width="2.4" stroke-linejoin="round" stroke-linecap="butt"/>
<polyline points="521.7,325.1 522.8,325.0 524.0,324.8 525.1,324.7 526.3,324.5 527.4,324.4 528.6,324.2 529.7,324.1 530.9,323.9 532.0,323.8 533.2,323.6 534.4,323.5 535.5,323.4 536.7,323.3 537.8,323.1 539.0,322.9 540.1,322.6 541.3,322.2 542.4,321.7 543.6,321.2 544.7,320.7 545.9,320.2 547.0,319.6 548.2,319.1 549.3,318.7 550.5,318.5 551.6,318.9 552.8,319.8 553.9,321.1 555.1,322.7 556.2,324.4 557.4,326.7 558.5,330.0 559.7,333.6 560.8,336.8 562.0,339.0 563.1,340.4 564.3,341.7 565.4,342.8 566.6,343.8 567.7,344.5 568.9,345.0 570.0,345.2 571.2,345.0 572.3,344.6 573.5,343.9 574.6,343.1 575.8,342.3 576.9,341.5 578.1,340.8 579.2,339.9 580.4,339.0 581.5,338.1 582.7,337.1 583.8,336.2 585.0,335.2 586.1,334.2 587.3,333.3 588.4,332.3 589.6,331.3 590.8,330.3 591.9,329.3 593.1,328.3 594.2,327.4 595.4,326.5 596.5,325.6 597.7,324.8 598.8,324.0 600.0,323.3 601.1,322.5 602.3,321.7 603.4,320.9 604.6,320.1 605.7,319.4 606.9,318.7 608.0,318.0 609.2,317.4 610.3,316.9 611.5,316.4 612.6,315.9 613.8,315.4 614.9,314.9 616.1,314.2 617.2,313.5 618.4,313.1 619.5,312.9 620.7,312.7 621.8,312.2 623.0,311.7 624.1,311.3 625.3,311.1 626.4,310.8 627.6,310.4 628.7,310.0 629.9,309.6 631.0,309.4 632.2,309.2 633.3,309.0 634.5,308.7 635.6,308.5 636.8,308.3 637.9,308.0 639.1,307.7 640.2,307.3 641.4,307.2 642.5,307.1 643.7,306.8 644.8,306.4 646.0,305.9 647.1,305.8 648.3,305.6 649.5,305.5 650.6,305.2 651.8,305.1 652.9,305.1 654.1,305.2 655.2,305.2 656.4,305.1 657.5,305.1 658.7,304.9 659.8,304.6 661.0,304.5 662.1,304.6 663.3,304.7 664.4,304.8 665.6,304.8 666.7,304.9 667.9,304.9 669.0,305.0 670.2,305.0 671.3,305.2 672.5,305.2 673.6,305.2 674.8,305.2 675.9,305.3 677.1,305.4 678.2,305.6 679.4,305.7 680.5,305.7 681.7,305.5 682.8,305.4 684.0,305.4 685.1,305.5 686.3,305.3 687.4,305.0 688.6,304.7 689.7,304.5 690.9,304.5 692.0,304.6 693.2,304.7 694.3,304.7 695.5,304.5 696.6,304.4 697.8,304.2 698.9,304.0 700.1,303.6 701.2,303.4 702.4,303.2 703.5,303.1 704.7,302.9 705.9,302.7" fill="none" stroke="#d4541c" stroke-width="2.4" stroke-linejoin="round" stroke-linecap="butt"/>
<line x1="533.2" y1="251.4" x2="533.2" y2="379.3" stroke="#111" stroke-width="1.85" stroke-dasharray="6.9,5.5" stroke-dashoffset="1.9"/>
<path d="M522.1,252.0 V379.3 H706.5" fill="none" stroke="#111" stroke-width="1.7"/>
<line x1="522.1" y1="252.0" x2="525.1" y2="252.0" stroke="#111" stroke-width="1.1"/>
<text x="516.2" y="256.5" font-size="12" fill="#1c1c1c" text-anchor="end" stroke="#1c1c1c" stroke-width="0.22">2</text>
<line x1="522.1" y1="288.6" x2="525.1" y2="288.6" stroke="#111" stroke-width="1.1"/>
<text x="516.2" y="293.1" font-size="12" fill="#1c1c1c" text-anchor="end" stroke="#1c1c1c" stroke-width="0.22">1</text>
<line x1="522.1" y1="325.1" x2="525.1" y2="325.1" stroke="#111" stroke-width="1.1"/>
<text x="516.2" y="329.6" font-size="12" fill="#1c1c1c" text-anchor="end" stroke="#1c1c1c" stroke-width="0.22">0</text>
<line x1="522.1" y1="361.7" x2="525.1" y2="361.7" stroke="#111" stroke-width="1.1"/>
<text x="516.2" y="366.2" font-size="12" fill="#1c1c1c" text-anchor="end" stroke="#1c1c1c" stroke-width="0.22">-1</text>
<line x1="533.2" y1="379.3" x2="533.2" y2="376.3" stroke="#111" stroke-width="1.1"/>
<text x="533.2" y="397.5" font-size="12" fill="#1c1c1c" text-anchor="middle" stroke="#1c1c1c" stroke-width="0.22">0</text>
<line x1="590.8" y1="379.3" x2="590.8" y2="376.3" stroke="#111" stroke-width="1.1"/>
<text x="590.8" y="397.5" font-size="12" fill="#1c1c1c" text-anchor="middle" stroke="#1c1c1c" stroke-width="0.22">1</text>
<line x1="648.3" y1="379.3" x2="648.3" y2="376.3" stroke="#111" stroke-width="1.1"/>
<text x="648.3" y="397.5" font-size="12" fill="#1c1c1c" text-anchor="middle" stroke="#1c1c1c" stroke-width="0.22">2</text>
<line x1="705.9" y1="379.3" x2="705.9" y2="376.3" stroke="#111" stroke-width="1.1"/>
<text x="705.9" y="397.5" font-size="12" fill="#1c1c1c" text-anchor="middle" stroke="#1c1c1c" stroke-width="0.22">3</text>
<text transform="translate(599.19,409.90) scale(0.9820,1)" font-size="10.6" fill="#1c1c1c" stroke="#1c1c1c" stroke-width="0.38">Time (s)</text>
<text transform="translate(505.2,312.6) rotate(-90)" font-size="10.6" fill="#1c1c1c" stroke="#1c1c1c" stroke-width="0.36" text-anchor="middle" textLength="92.5" lengthAdjust="spacingAndGlyphs">Pupil diameter (a.u.)</text>
<rect x="546.0" y="239.5" width="31.7" height="25.2" fill="#5e5e5e"/>
<rect x="558.72" y="240.65" width="1.36" height="1.3" fill="#ebebeb"/>
<rect x="555.62" y="242.95" width="1.36" height="1.3" fill="#ebebeb"/>
<rect x="559.52" y="244.15" width="1.36" height="1.3" fill="#ebebeb"/>
<rect x="553.32" y="247.55" width="1.36" height="1.3" fill="#ebebeb"/>
<rect x="553.02" y="250.85" width="1.36" height="1.3" fill="#ebebeb"/>
<rect x="554.92" y="251.15" width="1.36" height="1.3" fill="#ebebeb"/>
<rect x="556.92" y="251.45" width="1.36" height="1.3" fill="#ebebeb"/>
<rect x="552.72" y="257.35" width="1.36" height="1.3" fill="#ebebeb"/>
<rect x="556.42" y="257.65" width="1.36" height="1.3" fill="#ebebeb"/>
<rect x="551.52" y="262.35" width="1.36" height="1.3" fill="#ebebeb"/>
<rect x="555.82" y="262.75" width="1.36" height="1.3" fill="#ebebeb"/>
<rect x="568.52" y="240.65" width="1.36" height="1.3" fill="#ebebeb"/>
<rect x="566.22" y="242.95" width="1.36" height="1.3" fill="#ebebeb"/>
<rect x="571.32" y="244.15" width="1.36" height="1.3" fill="#ebebeb"/>
<rect x="563.12" y="246.55" width="1.36" height="1.3" fill="#ebebeb"/>
<rect x="563.52" y="248.35" width="1.36" height="1.3" fill="#ebebeb"/>
<rect x="562.32" y="250.05" width="1.36" height="1.3" fill="#ebebeb"/>
<rect x="565.42" y="250.35" width="1.36" height="1.3" fill="#ebebeb"/>
<rect x="568.82" y="250.65" width="1.36" height="1.3" fill="#ebebeb"/>
<rect x="572.42" y="248.85" width="1.36" height="1.3" fill="#ebebeb"/>
<rect x="572.02" y="252.35" width="1.36" height="1.3" fill="#ebebeb"/>
<rect x="565.42" y="257.05" width="1.36" height="1.3" fill="#ebebeb"/>
<rect x="568.82" y="257.05" width="1.36" height="1.3" fill="#ebebeb"/>
<rect x="565.72" y="262.35" width="1.36" height="1.3" fill="#ebebeb"/>
<rect x="568.82" y="262.35" width="1.36" height="1.3" fill="#ebebeb"/>
<rect x="546.0" y="268.9" width="31.7" height="25.6" fill="#5e5e5e"/>
<rect x="555.02" y="270.15" width="1.36" height="1.3" fill="#ebebeb"/>
<rect x="552.22" y="272.55" width="1.36" height="1.3" fill="#ebebeb"/>
<rect x="555.82" y="273.25" width="1.36" height="1.3" fill="#ebebeb"/>
<rect x="551.92" y="276.35" width="1.36" height="1.3" fill="#ebebeb"/>
<rect x="549.92" y="279.05" width="1.36" height="1.3" fill="#ebebeb"/>
<rect x="554.22" y="279.45" width="1.36" height="1.3" fill="#ebebeb"/>
<rect x="558.42" y="276.35" width="1.36" height="1.3" fill="#ebebeb"/>
<rect x="556.92" y="281.35" width="1.36" height="1.3" fill="#ebebeb"/>
<rect x="559.52" y="279.35" width="1.36" height="1.3" fill="#ebebeb"/>
<rect x="551.92" y="284.85" width="1.36" height="1.3" fill="#ebebeb"/>
<rect x="553.02" y="287.55" width="1.36" height="1.3" fill="#ebebeb"/>
<rect x="550.72" y="291.85" width="1.36" height="1.3" fill="#ebebeb"/>
<rect x="563.12" y="275.15" width="1.36" height="1.3" fill="#ebebeb"/>
<rect x="566.62" y="272.85" width="1.36" height="1.3" fill="#ebebeb"/>
<rect x="569.32" y="270.55" width="1.36" height="1.3" fill="#ebebeb"/>
<rect x="571.62" y="273.95" width="1.36" height="1.3" fill="#ebebeb"/>
<rect x="562.32" y="279.35" width="1.36" height="1.3" fill="#ebebeb"/>
<rect x="565.42" y="279.45" width="1.36" height="1.3" fill="#ebebeb"/>
<rect x="568.82" y="279.45" width="1.36" height="1.3" fill="#ebebeb"/>
<rect x="572.42" y="279.05" width="1.36" height="1.3" fill="#ebebeb"/>
<rect x="572.72" y="281.65" width="1.36" height="1.3" fill="#ebebeb"/>
<rect x="565.92" y="285.95" width="1.36" height="1.3" fill="#ebebeb"/>
<rect x="569.32" y="285.95" width="1.36" height="1.3" fill="#ebebeb"/>
<rect x="565.72" y="291.85" width="1.36" height="1.3" fill="#ebebeb"/>
<rect x="568.82" y="291.85" width="1.36" height="1.3" fill="#ebebeb"/>
<line x1="583.3" y1="253.2" x2="588.5" y2="253.2" stroke="#1b6fa3" stroke-width="1.6"/>
<text transform="translate(591.12,257.40) scale(0.9325,1)" font-size="10.4" fill="#2b7ca8" stroke="#2b7ca8" stroke-width="0.2">Communicative</text>
<line x1="582.9" y1="279.5" x2="588.5" y2="279.5" stroke="#cf5a28" stroke-width="1.6"/>
<text transform="translate(589.43,282.60) scale(0.9276,1)" font-size="10.4" fill="#c56332" stroke="#c56332" stroke-width="0.2">Non-Communicative</text>
<text transform="translate(501.38,223.70) scale(0.8056,1)" font-size="19.0" fill="#111" stroke="#111" stroke-width="0.35">F</text>
<text transform="translate(581.87,229.70) scale(0.9609,1)" font-size="14.7" fill="#111" stroke="#111" stroke-width="0.25">Experiment 3</text>
</svg>
</body>
</html>
